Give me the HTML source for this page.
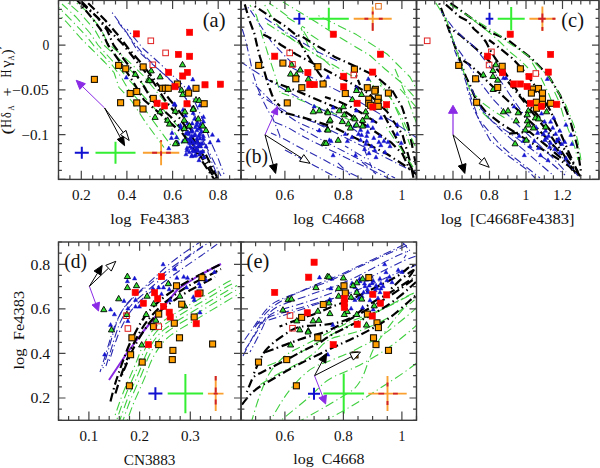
<!DOCTYPE html>
<html><head><meta charset="utf-8"><style>html,body{margin:0;padding:0;background:#fff;}svg{display:block;} text{fill:#111;} text.tag{stroke-width:0;}</style></head>
<body><svg width="600" height="468" viewBox="0 0 600 468">
<rect width="600" height="468" fill="#fff"/>
<defs><clipPath id="ca"><rect x="58.5" y="0.4" width="182.5" height="179.0"/></clipPath><clipPath id="cb"><rect x="241.0" y="0.4" width="175.5" height="179.0"/></clipPath><clipPath id="cc"><rect x="416.5" y="0.4" width="182.5" height="179.0"/></clipPath><clipPath id="cd"><rect x="58.5" y="242.0" width="182.5" height="178.3"/></clipPath><clipPath id="ce"><rect x="241.0" y="242.0" width="175.5" height="178.3"/></clipPath></defs>
<g clip-path="url(#ca)">
<path d="M55.0 10.5L66.0 21.5L81.0 38.5L89.0 46.5L95.0 52.5L105.0 62.5L114.0 72.5L119.0 87.5L132.0 101.5L145.0 121.5L156.0 136.5L164.0 147.5" fill="none" stroke="#3fcf3f" stroke-width="1.1" stroke-dasharray="9 3.5 1.2 3.5" stroke-dashoffset="3" stroke-linecap="butt" stroke-linejoin="round" opacity="1.00"/>
<path d="M58.0 6.8L71.0 19.8L86.0 35.8L94.0 45.8L102.0 53.8L112.0 64.8L121.0 76.8L128.0 88.8L139.0 100.8L153.0 120.8L164.0 135.8L172.0 146.8" fill="none" stroke="#3fcf3f" stroke-width="1.1" stroke-dasharray="9 3.5 1.2 3.5" stroke-dashoffset="7" stroke-linecap="butt" stroke-linejoin="round" opacity="1.00"/>
<path d="M62.0 4.0L76.0 17.0L90.0 33.0L98.0 45.0L108.0 56.0L119.0 68.0L129.0 80.0L138.0 90.0L147.0 100.0L165.0 120.0L175.0 133.0L182.0 144.0" fill="none" stroke="#3fcf3f" stroke-width="1.1" stroke-dasharray="9 3.5 1.2 3.5" stroke-dashoffset="1" stroke-linecap="butt" stroke-linejoin="round" opacity="1.00"/>
<path d="M66.0 1.2L81.0 14.2L95.0 30.2L103.0 44.2L114.0 54.2L126.0 65.2L137.0 77.2L147.0 89.2L154.0 99.2L170.0 117.2L182.0 131.2L188.0 139.2" fill="none" stroke="#3fcf3f" stroke-width="1.1" stroke-dasharray="9 3.5 1.2 3.5" stroke-dashoffset="10" stroke-linecap="butt" stroke-linejoin="round" opacity="1.00"/>
<path d="M71.0 -1.5L87.0 11.5L100.0 27.5L108.0 43.5L120.0 53.5L132.0 64.5L144.0 76.5L154.0 88.5L162.0 98.5L176.0 114.5L186.0 126.5L194.0 136.5" fill="none" stroke="#3fcf3f" stroke-width="1.1" stroke-dasharray="9 3.5 1.2 3.5" stroke-dashoffset="5" stroke-linecap="butt" stroke-linejoin="round" opacity="1.00"/>
<path d="M77.0 0.0L92.0 18.0L101.0 30.0L108.0 45.0L120.0 62.0L132.0 80.0L144.0 100.0L165.0 118.0L183.0 134.0L198.0 155.0L214.0 179.0" fill="none" stroke="#000" stroke-width="2.2" stroke-dasharray="9 3.5 1.5 3.5" stroke-dashoffset="4" stroke-linecap="butt" stroke-linejoin="round" opacity="1.00"/>
<path d="M78.0 0.0L98.0 18.0L107.0 30.0L113.5 45.0L126.0 62.0L140.0 80.0L152.0 100.0L172.0 118.0L186.0 134.0L200.0 155.0L215.0 179.0" fill="none" stroke="#000" stroke-width="2.2" stroke-dasharray="9 3.5 1.5 3.5" stroke-dashoffset="14" stroke-linecap="butt" stroke-linejoin="round" opacity="1.00"/>
<path d="M80.0 0.0L100.0 20.0L111.0 32.0L123.5 45.0L137.0 62.0L152.0 80.0L165.0 100.0L178.0 116.0L188.0 130.0L203.0 155.0L217.0 179.0" fill="none" stroke="#000" stroke-width="2.2" stroke-dasharray="9 3.5 1.5 3.5" stroke-dashoffset="16" stroke-linecap="butt" stroke-linejoin="round" opacity="1.00"/>
<path d="M85.0 0.0L105.0 20.0L118.0 35.0L128.0 48.0L142.0 64.0L156.0 82.0L170.0 100.0L183.0 116.0L191.0 130.0L206.0 155.0L218.0 179.0" fill="none" stroke="#000" stroke-width="2.2" stroke-dasharray="9 3.5 1.5 3.5" stroke-dashoffset="13" stroke-linecap="butt" stroke-linejoin="round" opacity="1.00"/>
<path d="M111.0 11.0L127.0 33.0L137.0 50.0L151.0 63.0L165.0 75.0L179.0 88.0L188.0 102.0L196.0 120.0L203.0 140.0L211.0 160.0L218.0 177.0" fill="none" stroke="#2a2ab0" stroke-width="1.1" stroke-dasharray="8 3 1.2 3" stroke-dashoffset="9" stroke-linecap="butt" stroke-linejoin="round" opacity="1.00"/>
<path d="M118.0 22.0L131.0 39.0L143.0 54.0L156.0 67.0L169.0 79.0L182.0 92.0L192.0 108.0L199.0 126.0L207.0 148.0L221.0 176.0" fill="none" stroke="#2a2ab0" stroke-width="1.1" stroke-dasharray="8 3 1.2 3" stroke-dashoffset="15" stroke-linecap="butt" stroke-linejoin="round" opacity="1.00"/>
<path d="M127.0 29.0L143.5 49.0L156.0 60.0L170.0 73.0L184.0 86.0L194.0 100.0L202.0 118.0L210.0 140.0L218.0 158.0L224.0 174.0" fill="none" stroke="#2a2ab0" stroke-width="1.1" stroke-dasharray="8 3 1.2 3" stroke-dashoffset="6" stroke-linecap="butt" stroke-linejoin="round" opacity="1.00"/>
</g>
<path d="M126.3 75.2L128.4 79.0L124.2 79.0Z" fill="#1515d0" stroke="#1515d0" stroke-width="0.5" stroke-linejoin="miter"/>
<path d="M192.8 77.1L194.9 80.9L190.7 80.9Z" fill="#1515d0" stroke="#1515d0" stroke-width="0.5" stroke-linejoin="miter"/>
<path d="M189.1 85.6L191.2 89.4L187.0 89.4Z" fill="#1515d0" stroke="#1515d0" stroke-width="0.5" stroke-linejoin="miter"/>
<path d="M174.2 101.7L176.3 105.5L172.1 105.5Z" fill="#1515d0" stroke="#1515d0" stroke-width="0.5" stroke-linejoin="miter"/>
<path d="M174.6 102.4L176.7 106.2L172.5 106.2Z" fill="#1515d0" stroke="#1515d0" stroke-width="0.5" stroke-linejoin="miter"/>
<path d="M193.2 110.7L195.3 114.5L191.1 114.5Z" fill="#1515d0" stroke="#1515d0" stroke-width="0.5" stroke-linejoin="miter"/>
<path d="M203.5 114.6L205.6 118.4L201.4 118.4Z" fill="#1515d0" stroke="#1515d0" stroke-width="0.5" stroke-linejoin="miter"/>
<path d="M203.5 119.1L205.6 122.9L201.4 122.9Z" fill="#1515d0" stroke="#1515d0" stroke-width="0.5" stroke-linejoin="miter"/>
<path d="M194.5 116.5L196.6 120.3L192.4 120.3Z" fill="#1515d0" stroke="#1515d0" stroke-width="0.5" stroke-linejoin="miter"/>
<path d="M196.4 122.9L198.5 126.7L194.3 126.7Z" fill="#1515d0" stroke="#1515d0" stroke-width="0.5" stroke-linejoin="miter"/>
<path d="M199.0 126.1L201.1 129.9L196.9 129.9Z" fill="#1515d0" stroke="#1515d0" stroke-width="0.5" stroke-linejoin="miter"/>
<path d="M180.4 122.9L182.5 126.7L178.3 126.7Z" fill="#1515d0" stroke="#1515d0" stroke-width="0.5" stroke-linejoin="miter"/>
<path d="M181.0 125.5L183.1 129.3L178.9 129.3Z" fill="#1515d0" stroke="#1515d0" stroke-width="0.5" stroke-linejoin="miter"/>
<path d="M172.0 130.6L174.1 134.4L169.9 134.4Z" fill="#1515d0" stroke="#1515d0" stroke-width="0.5" stroke-linejoin="miter"/>
<path d="M171.4 135.7L173.5 139.5L169.3 139.5Z" fill="#1515d0" stroke="#1515d0" stroke-width="0.5" stroke-linejoin="miter"/>
<path d="M212.4 132.5L214.5 136.3L210.3 136.3Z" fill="#1515d0" stroke="#1515d0" stroke-width="0.5" stroke-linejoin="miter"/>
<path d="M218.2 138.3L220.3 142.1L216.1 142.1Z" fill="#1515d0" stroke="#1515d0" stroke-width="0.5" stroke-linejoin="miter"/>
<path d="M209.9 140.2L212.0 144.0L207.8 144.0Z" fill="#1515d0" stroke="#1515d0" stroke-width="0.5" stroke-linejoin="miter"/>
<path d="M168.8 146.0L170.9 149.8L166.7 149.8Z" fill="#1515d0" stroke="#1515d0" stroke-width="0.5" stroke-linejoin="miter"/>
<path d="M191.9 133.8L194.0 137.6L189.8 137.6Z" fill="#1515d0" stroke="#1515d0" stroke-width="0.5" stroke-linejoin="miter"/>
<path d="M195.1 131.9L197.2 135.7L193.0 135.7Z" fill="#1515d0" stroke="#1515d0" stroke-width="0.5" stroke-linejoin="miter"/>
<path d="M199.6 131.9L201.7 135.7L197.5 135.7Z" fill="#1515d0" stroke="#1515d0" stroke-width="0.5" stroke-linejoin="miter"/>
<path d="M203.5 136.4L205.6 140.2L201.4 140.2Z" fill="#1515d0" stroke="#1515d0" stroke-width="0.5" stroke-linejoin="miter"/>
<path d="M193.2 140.2L195.3 144.0L191.1 144.0Z" fill="#1515d0" stroke="#1515d0" stroke-width="0.5" stroke-linejoin="miter"/>
<path d="M197.0 138.9L199.1 142.7L194.9 142.7Z" fill="#1515d0" stroke="#1515d0" stroke-width="0.5" stroke-linejoin="miter"/>
<path d="M190.0 144.1L192.1 147.9L187.9 147.9Z" fill="#1515d0" stroke="#1515d0" stroke-width="0.5" stroke-linejoin="miter"/>
<path d="M194.5 144.1L196.6 147.9L192.4 147.9Z" fill="#1515d0" stroke="#1515d0" stroke-width="0.5" stroke-linejoin="miter"/>
<path d="M198.3 143.4L200.4 147.2L196.2 147.2Z" fill="#1515d0" stroke="#1515d0" stroke-width="0.5" stroke-linejoin="miter"/>
<path d="M200.9 141.5L203.0 145.3L198.8 145.3Z" fill="#1515d0" stroke="#1515d0" stroke-width="0.5" stroke-linejoin="miter"/>
<path d="M206.0 144.1L208.1 147.9L203.9 147.9Z" fill="#1515d0" stroke="#1515d0" stroke-width="0.5" stroke-linejoin="miter"/>
<path d="M192.6 148.5L194.7 152.3L190.5 152.3Z" fill="#1515d0" stroke="#1515d0" stroke-width="0.5" stroke-linejoin="miter"/>
<path d="M196.4 148.5L198.5 152.3L194.3 152.3Z" fill="#1515d0" stroke="#1515d0" stroke-width="0.5" stroke-linejoin="miter"/>
<path d="M191.9 153.0L194.0 156.8L189.8 156.8Z" fill="#1515d0" stroke="#1515d0" stroke-width="0.5" stroke-linejoin="miter"/>
<path d="M195.8 153.0L197.9 156.8L193.7 156.8Z" fill="#1515d0" stroke="#1515d0" stroke-width="0.5" stroke-linejoin="miter"/>
<path d="M176.5 135.1L178.6 138.9L174.4 138.9Z" fill="#1515d0" stroke="#1515d0" stroke-width="0.5" stroke-linejoin="miter"/>
<path d="M177.8 140.2L179.9 144.0L175.7 144.0Z" fill="#1515d0" stroke="#1515d0" stroke-width="0.5" stroke-linejoin="miter"/>
<path d="M183.0 138.9L185.1 142.7L180.9 142.7Z" fill="#1515d0" stroke="#1515d0" stroke-width="0.5" stroke-linejoin="miter"/>
<path d="M189.4 139.6L191.5 143.4L187.3 143.4Z" fill="#1515d0" stroke="#1515d0" stroke-width="0.5" stroke-linejoin="miter"/>
<path d="M185.5 113.3L187.6 117.1L183.4 117.1Z" fill="#1515d0" stroke="#1515d0" stroke-width="0.5" stroke-linejoin="miter"/>
<path d="M183.0 107.5L185.1 111.3L180.9 111.3Z" fill="#1515d0" stroke="#1515d0" stroke-width="0.5" stroke-linejoin="miter"/>
<path d="M199.8 103.2L201.9 107.0L197.7 107.0Z" fill="#1515d0" stroke="#1515d0" stroke-width="0.5" stroke-linejoin="miter"/>
<path d="M188.6 85.3L190.7 89.1L186.5 89.1Z" fill="#1515d0" stroke="#1515d0" stroke-width="0.5" stroke-linejoin="miter"/>
<path d="M175.0 102.2L177.1 106.0L172.9 106.0Z" fill="#1515d0" stroke="#1515d0" stroke-width="0.5" stroke-linejoin="miter"/>
<path d="M192.0 127.9L194.1 131.7L189.9 131.7Z" fill="#1515d0" stroke="#1515d0" stroke-width="0.5" stroke-linejoin="miter"/>
<path d="M186.0 130.9L188.1 134.7L183.9 134.7Z" fill="#1515d0" stroke="#1515d0" stroke-width="0.5" stroke-linejoin="miter"/>
<path d="M201.0 149.9L203.1 153.7L198.9 153.7Z" fill="#1515d0" stroke="#1515d0" stroke-width="0.5" stroke-linejoin="miter"/>
<path d="M204.0 154.9L206.1 158.7L201.9 158.7Z" fill="#1515d0" stroke="#1515d0" stroke-width="0.5" stroke-linejoin="miter"/>
<path d="M199.0 157.9L201.1 161.7L196.9 161.7Z" fill="#1515d0" stroke="#1515d0" stroke-width="0.5" stroke-linejoin="miter"/>
<path d="M187.0 147.9L189.1 151.7L184.9 151.7Z" fill="#1515d0" stroke="#1515d0" stroke-width="0.5" stroke-linejoin="miter"/>
<path d="M190.0 135.9L192.1 139.7L187.9 139.7Z" fill="#1515d0" stroke="#1515d0" stroke-width="0.5" stroke-linejoin="miter"/>
<path d="M187.5 121.0L189.6 124.8L185.4 124.8Z" fill="#1515d0" stroke="#1515d0" stroke-width="0.5" stroke-linejoin="miter"/>
<path d="M192.2 121.1L194.3 124.9L190.1 124.9Z" fill="#1515d0" stroke="#1515d0" stroke-width="0.5" stroke-linejoin="miter"/>
<path d="M197.3 120.0L199.4 123.8L195.2 123.8Z" fill="#1515d0" stroke="#1515d0" stroke-width="0.5" stroke-linejoin="miter"/>
<path d="M200.5 121.6L202.6 125.4L198.4 125.4Z" fill="#1515d0" stroke="#1515d0" stroke-width="0.5" stroke-linejoin="miter"/>
<path d="M189.3 124.4L191.4 128.2L187.2 128.2Z" fill="#1515d0" stroke="#1515d0" stroke-width="0.5" stroke-linejoin="miter"/>
<path d="M195.3 124.9L197.4 128.7L193.2 128.7Z" fill="#1515d0" stroke="#1515d0" stroke-width="0.5" stroke-linejoin="miter"/>
<path d="M199.5 124.9L201.6 128.7L197.4 128.7Z" fill="#1515d0" stroke="#1515d0" stroke-width="0.5" stroke-linejoin="miter"/>
<path d="M203.6 124.2L205.7 128.0L201.5 128.0Z" fill="#1515d0" stroke="#1515d0" stroke-width="0.5" stroke-linejoin="miter"/>
<path d="M187.9 129.6L190.0 133.4L185.8 133.4Z" fill="#1515d0" stroke="#1515d0" stroke-width="0.5" stroke-linejoin="miter"/>
<path d="M192.1 129.4L194.2 133.2L190.0 133.2Z" fill="#1515d0" stroke="#1515d0" stroke-width="0.5" stroke-linejoin="miter"/>
<path d="M196.9 128.0L199.0 131.8L194.8 131.8Z" fill="#1515d0" stroke="#1515d0" stroke-width="0.5" stroke-linejoin="miter"/>
<path d="M201.6 129.1L203.7 132.9L199.5 132.9Z" fill="#1515d0" stroke="#1515d0" stroke-width="0.5" stroke-linejoin="miter"/>
<path d="M189.0 132.0L191.1 135.8L186.9 135.8Z" fill="#1515d0" stroke="#1515d0" stroke-width="0.5" stroke-linejoin="miter"/>
<path d="M194.6 132.9L196.7 136.7L192.5 136.7Z" fill="#1515d0" stroke="#1515d0" stroke-width="0.5" stroke-linejoin="miter"/>
<path d="M198.8 133.7L200.9 137.5L196.7 137.5Z" fill="#1515d0" stroke="#1515d0" stroke-width="0.5" stroke-linejoin="miter"/>
<path d="M203.3 133.8L205.4 137.6L201.2 137.6Z" fill="#1515d0" stroke="#1515d0" stroke-width="0.5" stroke-linejoin="miter"/>
<path d="M187.0 137.5L189.1 141.3L184.9 141.3Z" fill="#1515d0" stroke="#1515d0" stroke-width="0.5" stroke-linejoin="miter"/>
<path d="M191.6 137.8L193.7 141.6L189.5 141.6Z" fill="#1515d0" stroke="#1515d0" stroke-width="0.5" stroke-linejoin="miter"/>
<path d="M197.0 136.1L199.1 139.9L194.9 139.9Z" fill="#1515d0" stroke="#1515d0" stroke-width="0.5" stroke-linejoin="miter"/>
<path d="M200.0 136.3L202.1 140.1L197.9 140.1Z" fill="#1515d0" stroke="#1515d0" stroke-width="0.5" stroke-linejoin="miter"/>
<path d="M189.9 140.8L192.0 144.6L187.8 144.6Z" fill="#1515d0" stroke="#1515d0" stroke-width="0.5" stroke-linejoin="miter"/>
<path d="M193.8 140.5L195.9 144.3L191.7 144.3Z" fill="#1515d0" stroke="#1515d0" stroke-width="0.5" stroke-linejoin="miter"/>
<path d="M198.0 140.7L200.1 144.5L195.9 144.5Z" fill="#1515d0" stroke="#1515d0" stroke-width="0.5" stroke-linejoin="miter"/>
<path d="M202.2 141.1L204.3 144.9L200.1 144.9Z" fill="#1515d0" stroke="#1515d0" stroke-width="0.5" stroke-linejoin="miter"/>
<path d="M187.0 145.7L189.1 149.5L184.9 149.5Z" fill="#1515d0" stroke="#1515d0" stroke-width="0.5" stroke-linejoin="miter"/>
<path d="M191.7 145.8L193.8 149.6L189.6 149.6Z" fill="#1515d0" stroke="#1515d0" stroke-width="0.5" stroke-linejoin="miter"/>
<path d="M196.5 145.9L198.6 149.7L194.4 149.7Z" fill="#1515d0" stroke="#1515d0" stroke-width="0.5" stroke-linejoin="miter"/>
<path d="M200.6 144.2L202.7 148.0L198.5 148.0Z" fill="#1515d0" stroke="#1515d0" stroke-width="0.5" stroke-linejoin="miter"/>
<path d="M189.3 149.8L191.4 153.6L187.2 153.6Z" fill="#1515d0" stroke="#1515d0" stroke-width="0.5" stroke-linejoin="miter"/>
<path d="M193.9 149.0L196.0 152.8L191.8 152.8Z" fill="#1515d0" stroke="#1515d0" stroke-width="0.5" stroke-linejoin="miter"/>
<path d="M198.0 148.3L200.1 152.1L195.9 152.1Z" fill="#1515d0" stroke="#1515d0" stroke-width="0.5" stroke-linejoin="miter"/>
<path d="M202.8 149.1L204.9 152.9L200.7 152.9Z" fill="#1515d0" stroke="#1515d0" stroke-width="0.5" stroke-linejoin="miter"/>
<path d="M186.0 152.0L188.1 155.8L183.9 155.8Z" fill="#1515d0" stroke="#1515d0" stroke-width="0.5" stroke-linejoin="miter"/>
<path d="M191.6 153.9L193.7 157.7L189.5 157.7Z" fill="#1515d0" stroke="#1515d0" stroke-width="0.5" stroke-linejoin="miter"/>
<path d="M194.6 153.5L196.7 157.3L192.5 157.3Z" fill="#1515d0" stroke="#1515d0" stroke-width="0.5" stroke-linejoin="miter"/>
<path d="M199.7 152.2L201.8 156.0L197.6 156.0Z" fill="#1515d0" stroke="#1515d0" stroke-width="0.5" stroke-linejoin="miter"/>
<path d="M135.3 71.0L138.4 76.4L132.2 76.4Z" fill="#33dd33" stroke="#000" stroke-width="0.9" stroke-linejoin="miter"/>
<path d="M148.4 76.8L151.5 82.2L145.3 82.2Z" fill="#33dd33" stroke="#000" stroke-width="0.9" stroke-linejoin="miter"/>
<path d="M182.5 61.4L185.6 66.8L179.4 66.8Z" fill="#33dd33" stroke="#000" stroke-width="0.9" stroke-linejoin="miter"/>
<path d="M151.2 67.5L154.3 72.9L148.1 72.9Z" fill="#33dd33" stroke="#000" stroke-width="0.9" stroke-linejoin="miter"/>
<path d="M160.1 73.5L163.2 78.9L157.0 78.9Z" fill="#33dd33" stroke="#000" stroke-width="0.9" stroke-linejoin="miter"/>
<path d="M149.6 77.3L152.7 82.7L146.5 82.7Z" fill="#33dd33" stroke="#000" stroke-width="0.9" stroke-linejoin="miter"/>
<path d="M181.6 86.9L184.7 92.3L178.5 92.3Z" fill="#33dd33" stroke="#000" stroke-width="0.9" stroke-linejoin="miter"/>
<path d="M182.7 91.2L185.8 96.6L179.6 96.6Z" fill="#33dd33" stroke="#000" stroke-width="0.9" stroke-linejoin="miter"/>
<path d="M196.0 96.5L199.1 101.9L192.9 101.9Z" fill="#33dd33" stroke="#000" stroke-width="0.9" stroke-linejoin="miter"/>
<path d="M199.2 97.0L202.3 102.4L196.1 102.4Z" fill="#33dd33" stroke="#000" stroke-width="0.9" stroke-linejoin="miter"/>
<path d="M193.4 105.0L196.5 110.4L190.3 110.4Z" fill="#33dd33" stroke="#000" stroke-width="0.9" stroke-linejoin="miter"/>
<path d="M193.2 106.0L196.3 111.4L190.1 111.4Z" fill="#33dd33" stroke="#000" stroke-width="0.9" stroke-linejoin="miter"/>
<path d="M184.9 108.5L188.0 113.9L181.8 113.9Z" fill="#33dd33" stroke="#000" stroke-width="0.9" stroke-linejoin="miter"/>
<path d="M175.3 107.9L178.4 113.3L172.2 113.3Z" fill="#33dd33" stroke="#000" stroke-width="0.9" stroke-linejoin="miter"/>
<path d="M167.6 116.9L170.7 122.3L164.5 122.3Z" fill="#33dd33" stroke="#000" stroke-width="0.9" stroke-linejoin="miter"/>
<path d="M169.5 120.7L172.6 126.1L166.4 126.1Z" fill="#33dd33" stroke="#000" stroke-width="0.9" stroke-linejoin="miter"/>
<path d="M184.2 116.9L187.3 122.3L181.1 122.3Z" fill="#33dd33" stroke="#000" stroke-width="0.9" stroke-linejoin="miter"/>
<path d="M189.4 122.6L192.5 128.0L186.3 128.0Z" fill="#33dd33" stroke="#000" stroke-width="0.9" stroke-linejoin="miter"/>
<path d="M184.2 125.2L187.3 130.6L181.1 130.6Z" fill="#33dd33" stroke="#000" stroke-width="0.9" stroke-linejoin="miter"/>
<path d="M198.3 115.6L201.4 121.0L195.2 121.0Z" fill="#33dd33" stroke="#000" stroke-width="0.9" stroke-linejoin="miter"/>
<path d="M202.8 122.6L205.9 128.0L199.7 128.0Z" fill="#33dd33" stroke="#000" stroke-width="0.9" stroke-linejoin="miter"/>
<path d="M206.0 127.1L209.1 132.5L202.9 132.5Z" fill="#33dd33" stroke="#000" stroke-width="0.9" stroke-linejoin="miter"/>
<path d="M176.5 140.0L179.6 145.4L173.4 145.4Z" fill="#33dd33" stroke="#000" stroke-width="0.9" stroke-linejoin="miter"/>
<path d="M184.9 137.4L188.0 142.8L181.8 142.8Z" fill="#33dd33" stroke="#000" stroke-width="0.9" stroke-linejoin="miter"/>
<path d="M160.2 108.4L163.3 113.8L157.1 113.8Z" fill="#33dd33" stroke="#000" stroke-width="0.9" stroke-linejoin="miter"/>
<path d="M155.1 114.0L158.2 119.4L152.0 119.4Z" fill="#33dd33" stroke="#000" stroke-width="0.9" stroke-linejoin="miter"/>
<path d="M175.4 140.4L178.5 145.8L172.3 145.8Z" fill="#33dd33" stroke="#000" stroke-width="0.9" stroke-linejoin="miter"/>
<rect x="115.6" y="62.4" width="6.0" height="6.0" fill="#ff9f00" stroke="#1a1000" stroke-width="1.1"/>
<rect x="122.7" y="65.8" width="6.0" height="6.0" fill="#ff9f00" stroke="#1a1000" stroke-width="1.1"/>
<rect x="140.2" y="63.9" width="6.0" height="6.0" fill="#ff9f00" stroke="#1a1000" stroke-width="1.1"/>
<rect x="91.4" y="76.4" width="6.0" height="6.0" fill="#ff9f00" stroke="#1a1000" stroke-width="1.1"/>
<rect x="117.6" y="99.7" width="6.0" height="6.0" fill="#ff9f00" stroke="#1a1000" stroke-width="1.1"/>
<rect x="127.2" y="90.5" width="6.0" height="6.0" fill="#ff9f00" stroke="#1a1000" stroke-width="1.1"/>
<rect x="133.7" y="88.5" width="6.0" height="6.0" fill="#ff9f00" stroke="#1a1000" stroke-width="1.1"/>
<rect x="133.7" y="99.9" width="6.0" height="6.0" fill="#ff9f00" stroke="#1a1000" stroke-width="1.1"/>
<rect x="140.0" y="106.0" width="6.0" height="6.0" fill="#ff9f00" stroke="#1a1000" stroke-width="1.1"/>
<rect x="159.6" y="85.3" width="6.0" height="6.0" fill="#ff9f00" stroke="#1a1000" stroke-width="1.1"/>
<rect x="162.3" y="85.3" width="6.0" height="6.0" fill="#ff9f00" stroke="#1a1000" stroke-width="1.1"/>
<rect x="165.3" y="85.3" width="6.0" height="6.0" fill="#ff9f00" stroke="#1a1000" stroke-width="1.1"/>
<rect x="174.4" y="81.0" width="6.0" height="6.0" fill="#ff9f00" stroke="#1a1000" stroke-width="1.1"/>
<rect x="185.6" y="90.1" width="6.0" height="6.0" fill="#ff9f00" stroke="#1a1000" stroke-width="1.1"/>
<rect x="193.0" y="85.3" width="6.0" height="6.0" fill="#ff9f00" stroke="#1a1000" stroke-width="1.1"/>
<rect x="150.3" y="95.4" width="6.0" height="6.0" fill="#ff9f00" stroke="#1a1000" stroke-width="1.1"/>
<rect x="201.2" y="100.7" width="6.0" height="6.0" fill="#ff9f00" stroke="#1a1000" stroke-width="1.1"/>
<rect x="148.0" y="38.0" width="5.6" height="5.6" fill="none" stroke="#e02020" stroke-width="1.0"/>
<rect x="162.8" y="50.1" width="5.6" height="5.6" fill="none" stroke="#e02020" stroke-width="1.0"/>
<rect x="150.0" y="62.0" width="5.6" height="5.6" fill="none" stroke="#e02020" stroke-width="1.0"/>
<rect x="133.3" y="30.8" width="6.2" height="6.2" fill="#ff0000" stroke="#ff0000" stroke-width="0.6"/>
<rect x="186.5" y="29.2" width="6.2" height="6.2" fill="#ff0000" stroke="#ff0000" stroke-width="0.6"/>
<rect x="175.3" y="51.3" width="6.2" height="6.2" fill="#ff0000" stroke="#ff0000" stroke-width="0.6"/>
<rect x="186.5" y="53.2" width="6.2" height="6.2" fill="#ff0000" stroke="#ff0000" stroke-width="0.6"/>
<rect x="165.5" y="69.2" width="6.2" height="6.2" fill="#ff0000" stroke="#ff0000" stroke-width="0.6"/>
<rect x="184.3" y="69.3" width="6.2" height="6.2" fill="#ff0000" stroke="#ff0000" stroke-width="0.6"/>
<rect x="179.6" y="72.9" width="6.2" height="6.2" fill="#ff0000" stroke="#ff0000" stroke-width="0.6"/>
<rect x="201.9" y="81.7" width="6.2" height="6.2" fill="#ff0000" stroke="#ff0000" stroke-width="0.6"/>
<rect x="217.3" y="81.1" width="6.2" height="6.2" fill="#ff0000" stroke="#ff0000" stroke-width="0.6"/>
<rect x="171.9" y="83.6" width="6.2" height="6.2" fill="#ff0000" stroke="#ff0000" stroke-width="0.6"/>
<rect x="154.0" y="100.1" width="6.2" height="6.2" fill="#ff0000" stroke="#ff0000" stroke-width="0.6"/>
<rect x="161.4" y="102.8" width="6.2" height="6.2" fill="#ff0000" stroke="#ff0000" stroke-width="0.6"/>
<rect x="183.9" y="100.7" width="6.2" height="6.2" fill="#ff0000" stroke="#ff0000" stroke-width="0.6"/>
<path d="M104.6 108.0L82.6 86.6" stroke="#8b2be6" stroke-width="1.0"/>
<path d="M76.2 80.3L85.4 83.7L79.8 89.4Z" fill="#8b2be6" stroke="#8b2be6" stroke-width="1"/>
<path d="M104.6 108.0L120.4 137.7" stroke="#000" stroke-width="1.0"/>
<path d="M124.6 145.7L117.3 139.4L123.5 136.1Z" fill="#000" stroke="#000" stroke-width="1"/>
<path d="M104.6 108.0L123.2 132.5" stroke="#000" stroke-width="1.0"/>
<path d="M129.2 140.5L120.4 134.6L126.0 130.4Z" fill="#fff" stroke="#000" stroke-width="1"/>
<path d="M74.8 152.7H88.8M81.8 146.7V158.7" stroke="#1010d0" stroke-width="2.0" fill="none"/>
<path d="M95.5 152.7H135.5M115.5 141.7V163.7" stroke="#33ee33" stroke-width="2.0" fill="none"/>
<path d="M142.9 152.8H179.3M161.1 140.3V165.3" stroke="#f9a030" stroke-width="1.9" fill="none"/>
<path d="M152.1 152.8H157.1M166.1 152.8H170.8M161.1 151.2V155.8M161.1 140.3V141.8" stroke="#d0202a" stroke-width="1.9" fill="none"/>
<g clip-path="url(#cb)">
<path d="M264.0 3.8L275.6 23.0L291.0 38.5L314.0 54.0L335.0 66.0L352.0 76.0" fill="none" stroke="#3fcf3f" stroke-width="1.1" stroke-dasharray="9 3.5 1.2 3.5" stroke-dashoffset="11" stroke-linecap="butt" stroke-linejoin="round" opacity="1.00"/>
<path d="M318.0 15.4L356.4 34.6L387.0 54.0L410.0 77.0L417.0 90.0" fill="none" stroke="#3fcf3f" stroke-width="1.1" stroke-dasharray="9 3.5 1.2 3.5" stroke-dashoffset="12" stroke-linecap="butt" stroke-linejoin="round" opacity="1.00"/>
<path d="M283.0 2.0L316.0 22.0L340.0 37.5L370.0 55.5L385.0 69.0L403.0 84.0L417.0 100.0" fill="none" stroke="#3fcf3f" stroke-width="1.1" stroke-dasharray="9 3.5 1.2 3.5" stroke-dashoffset="2" stroke-linecap="butt" stroke-linejoin="round" opacity="1.00"/>
<path d="M395.0 69.0L406.4 96.0L418.0 127.0" fill="none" stroke="#3fcf3f" stroke-width="1.1" stroke-dasharray="9 3.5 1.2 3.5" stroke-dashoffset="0" stroke-linecap="butt" stroke-linejoin="round" opacity="1.00"/>
<path d="M368.0 77.0L379.5 96.0L388.0 110.0" fill="none" stroke="#3fcf3f" stroke-width="1.1" stroke-dasharray="9 3.5 1.2 3.5" stroke-dashoffset="3" stroke-linecap="butt" stroke-linejoin="round" opacity="1.00"/>
<path d="M250.0 5.0L256.4 15.4L262.0 35.0L268.0 54.0L275.6 77.0L280.0 92.0" fill="none" stroke="#3fcf3f" stroke-width="1.1" stroke-dasharray="9 3.5 1.2 3.5" stroke-dashoffset="7" stroke-linecap="butt" stroke-linejoin="round" opacity="1.00"/>
<path d="M281.6 93.1L293.8 97.2L310.0 104.0L330.0 112.0L350.0 120.0" fill="none" stroke="#3fcf3f" stroke-width="1.1" stroke-dasharray="9 3.5 1.2 3.5" stroke-dashoffset="1" stroke-linecap="butt" stroke-linejoin="round" opacity="1.00"/>
<path d="M300.0 25.0L310.0 42.0L322.0 58.0L335.0 70.0" fill="none" stroke="#3fcf3f" stroke-width="1.1" stroke-dasharray="9 3.5 1.2 3.5" stroke-dashoffset="10" stroke-linecap="butt" stroke-linejoin="round" opacity="1.00"/>
<path d="M380.0 82.0L392.0 100.0L402.0 122.0L410.0 145.0" fill="none" stroke="#3fcf3f" stroke-width="1.1" stroke-dasharray="9 3.5 1.2 3.5" stroke-dashoffset="5" stroke-linecap="butt" stroke-linejoin="round" opacity="1.00"/>
<path d="M269.3 3.3L279.3 10.0L290.0 18.0" fill="none" stroke="#3fcf3f" stroke-width="1.1" stroke-dasharray="9 3.5 1.2 3.5" stroke-dashoffset="4" stroke-linecap="butt" stroke-linejoin="round" opacity="1.00"/>
<path d="M264.3 21.7L274.3 28.3L285.0 35.0" fill="none" stroke="#3fcf3f" stroke-width="1.1" stroke-dasharray="9 3.5 1.2 3.5" stroke-dashoffset="14" stroke-linecap="butt" stroke-linejoin="round" opacity="1.00"/>
<path d="M286.0 16.7L294.3 21.7L305.0 28.0" fill="none" stroke="#3fcf3f" stroke-width="1.1" stroke-dasharray="9 3.5 1.2 3.5" stroke-dashoffset="16" stroke-linecap="butt" stroke-linejoin="round" opacity="1.00"/>
<path d="M282.7 33.3L291.0 38.3L300.0 44.0" fill="none" stroke="#3fcf3f" stroke-width="1.1" stroke-dasharray="9 3.5 1.2 3.5" stroke-dashoffset="13" stroke-linecap="butt" stroke-linejoin="round" opacity="1.00"/>
<path d="M304.3 30.0L311.0 35.0L320.0 41.0" fill="none" stroke="#3fcf3f" stroke-width="1.1" stroke-dasharray="9 3.5 1.2 3.5" stroke-dashoffset="9" stroke-linecap="butt" stroke-linejoin="round" opacity="1.00"/>
<path d="M299.3 45.0L308.0 50.0L318.0 56.0" fill="none" stroke="#3fcf3f" stroke-width="1.1" stroke-dasharray="9 3.5 1.2 3.5" stroke-dashoffset="15" stroke-linecap="butt" stroke-linejoin="round" opacity="1.00"/>
<path d="M301.0 28.0L306.0 40.0L310.0 50.0" fill="none" stroke="#3fcf3f" stroke-width="1.1" stroke-dasharray="9 3.5 1.2 3.5" stroke-dashoffset="6" stroke-linecap="butt" stroke-linejoin="round" opacity="1.00"/>
<path d="M241.0 25.0L245.0 38.0L249.0 55.0L253.0 73.7L258.0 89.0L264.0 102.7L268.4 111.3L272.6 118.0L277.0 128.4L280.3 137.0" fill="none" stroke="#2a2ab0" stroke-width="1.1" stroke-dasharray="8 3 1.2 3" stroke-dashoffset="11" stroke-linecap="butt" stroke-linejoin="round" opacity="1.00"/>
<path d="M272.0 121.0L288.7 128.0L304.7 137.3L330.0 150.0L355.0 162.0L380.0 174.0L392.0 180.0" fill="none" stroke="#2a2ab0" stroke-width="1.1" stroke-dasharray="8 3 1.2 3" stroke-dashoffset="12" stroke-linecap="butt" stroke-linejoin="round" opacity="1.00"/>
<path d="M271.0 133.0L284.7 139.3L300.7 148.0L316.7 156.0L334.0 165.3L350.0 173.0L365.0 180.0" fill="none" stroke="#2a2ab0" stroke-width="1.1" stroke-dasharray="8 3 1.2 3" stroke-dashoffset="2" stroke-linecap="butt" stroke-linejoin="round" opacity="1.00"/>
<path d="M285.0 150.0L300.0 158.0L315.0 166.0L330.0 174.0L342.0 180.0" fill="none" stroke="#2a2ab0" stroke-width="1.1" stroke-dasharray="8 3 1.2 3" stroke-dashoffset="0" stroke-linecap="butt" stroke-linejoin="round" opacity="1.00"/>
<path d="M300.0 128.0L322.0 140.0L345.0 152.0L370.0 165.0L395.0 178.0" fill="none" stroke="#2a2ab0" stroke-width="1.1" stroke-dasharray="8 3 1.2 3" stroke-dashoffset="3" stroke-linecap="butt" stroke-linejoin="round" opacity="1.00"/>
<path d="M310.0 120.0L330.0 130.0L350.0 140.0L375.0 152.0L400.0 165.0L417.0 173.0" fill="none" stroke="#2a2ab0" stroke-width="1.1" stroke-dasharray="8 3 1.2 3" stroke-dashoffset="7" stroke-linecap="butt" stroke-linejoin="round" opacity="1.00"/>
<path d="M241.0 62.0L262.0 76.0L285.0 90.0L310.0 104.0L340.0 118.0" fill="none" stroke="#2a2ab0" stroke-width="1.1" stroke-dasharray="8 3 1.2 3" stroke-dashoffset="1" stroke-linecap="butt" stroke-linejoin="round" opacity="1.00"/>
<path d="M252.0 82.0L266.0 96.0L280.0 110.0L297.0 122.0L320.0 132.0" fill="none" stroke="#2a2ab0" stroke-width="1.1" stroke-dasharray="8 3 1.2 3" stroke-dashoffset="10" stroke-linecap="butt" stroke-linejoin="round" opacity="1.00"/>
<path d="M258.0 94.0L275.0 105.0L292.0 115.0L308.0 120.0L330.0 128.0" fill="none" stroke="#2a2ab0" stroke-width="1.1" stroke-dasharray="8 3 1.2 3" stroke-dashoffset="5" stroke-linecap="butt" stroke-linejoin="round" opacity="1.00"/>
<path d="M241.0 10.0L248.7 7.7L260.0 25.0L271.8 42.3L285.0 56.0L298.7 69.0" fill="none" stroke="#2a2ab0" stroke-width="1.1" stroke-dasharray="8 3 1.2 3" stroke-dashoffset="4" stroke-linecap="butt" stroke-linejoin="round" opacity="1.00"/>
<path d="M264.0 17.3L290.0 35.0L318.0 52.0L340.0 62.0" fill="none" stroke="#2a2ab0" stroke-width="1.1" stroke-dasharray="8 3 1.2 3" stroke-dashoffset="14" stroke-linecap="butt" stroke-linejoin="round" opacity="1.00"/>
<path d="M279.5 61.5L318.0 80.8L356.4 100.0L395.0 123.0L417.0 138.0" fill="none" stroke="#2a2ab0" stroke-width="1.1" stroke-dasharray="8 3 1.2 3" stroke-dashoffset="16" stroke-linecap="butt" stroke-linejoin="round" opacity="1.00"/>
<path d="M243.5 0.0L249.3 20.0L254.3 33.3L257.7 48.3L260.0 57.0L264.0 70.0L268.0 84.0L272.0 95.0L275.6 102.0L280.0 106.0" fill="none" stroke="#000" stroke-width="2.2" stroke-dasharray="9 3.5 1.5 3.5" stroke-dashoffset="13" stroke-linecap="butt" stroke-linejoin="round" opacity="1.00"/>
<path d="M251.8 4.2L274.3 19.2L286.0 26.7L296.0 35.0L301.0 35.8L312.7 43.3L324.3 50.0L334.3 56.7L346.0 62.0L361.0 69.0L375.6 76.0L392.0 90.0L402.0 107.0L408.0 125.0L412.0 145.0L416.0 165.0" fill="none" stroke="#000" stroke-width="2.2" stroke-dasharray="9 3.5 1.5 3.5" stroke-dashoffset="9" stroke-linecap="butt" stroke-linejoin="round" opacity="1.00"/>
<path d="M261.0 33.3L274.3 40.0L281.0 45.0L289.3 50.0L296.0 54.2L318.0 66.0L348.7 82.0L368.0 93.0L387.0 111.5L402.5 134.6L410.0 161.5L414.0 180.0" fill="none" stroke="#000" stroke-width="2.2" stroke-dasharray="9 3.5 1.5 3.5" stroke-dashoffset="15" stroke-linecap="butt" stroke-linejoin="round" opacity="1.00"/>
<path d="M270.0 80.8L291.0 88.5L318.0 100.0L345.0 111.5L368.0 127.0L391.0 142.3L402.5 154.0L410.0 170.0" fill="none" stroke="#000" stroke-width="2.2" stroke-dasharray="9 3.5 1.5 3.5" stroke-dashoffset="6" stroke-linecap="butt" stroke-linejoin="round" opacity="1.00"/>
<path d="M279.5 111.5L302.5 117.3L333.3 127.0L364.0 142.3L387.0 154.0L410.0 169.0L417.0 175.0" fill="none" stroke="#000" stroke-width="2.2" stroke-dasharray="9 3.5 1.5 3.5" stroke-dashoffset="11" stroke-linecap="butt" stroke-linejoin="round" opacity="1.00"/>
<path d="M296.0 35.0L299.3 41.7L306.8 54.2L312.0 62.0L318.0 72.0L325.6 82.0" fill="none" stroke="#000" stroke-width="2.2" stroke-dasharray="9 3.5 1.5 3.5" stroke-dashoffset="12" stroke-linecap="butt" stroke-linejoin="round" opacity="1.00"/>
<path d="M352.5 65.4L356.0 75.0L360.0 85.0" fill="none" stroke="#000" stroke-width="2.2" stroke-dasharray="9 3.5 1.5 3.5" stroke-dashoffset="2" stroke-linecap="butt" stroke-linejoin="round" opacity="1.00"/>
<path d="M384.0 115.0L392.0 130.0L400.0 145.0L408.0 160.0L414.0 174.0" fill="none" stroke="#000" stroke-width="2.2" stroke-dasharray="9 3.5 1.5 3.5" stroke-dashoffset="0" stroke-linecap="butt" stroke-linejoin="round" opacity="1.00"/>
<path d="M325.0 97.0L340.0 102.0L351.0 107.0L365.0 115.0L380.0 125.0" fill="none" stroke="#000" stroke-width="2.2" stroke-dasharray="9 3.5 1.5 3.5" stroke-dashoffset="3" stroke-linecap="butt" stroke-linejoin="round" opacity="1.00"/>
<path d="M380.0 85.0L392.0 100.0L402.0 118.0L410.0 135.0L417.0 150.0" fill="none" stroke="#3fcf3f" stroke-width="1.1" stroke-dasharray="9 3.5 1.2 3.5" stroke-dashoffset="7" stroke-linecap="butt" stroke-linejoin="round" opacity="1.00"/>
<path d="M400.0 89.0L410.0 100.0L417.0 108.0" fill="none" stroke="#3fcf3f" stroke-width="1.1" stroke-dasharray="9 3.5 1.2 3.5" stroke-dashoffset="1" stroke-linecap="butt" stroke-linejoin="round" opacity="1.00"/>
<path d="M385.0 125.0L395.0 140.0L405.0 155.0L415.0 170.0" fill="none" stroke="#3fcf3f" stroke-width="1.1" stroke-dasharray="9 3.5 1.2 3.5" stroke-dashoffset="10" stroke-linecap="butt" stroke-linejoin="round" opacity="1.00"/>
<path d="M331.0 111.0L347.0 124.0L360.0 134.0" fill="none" stroke="#2a2ab0" stroke-width="1.1" stroke-dasharray="8 3 1.2 3" stroke-dashoffset="5" stroke-linecap="butt" stroke-linejoin="round" opacity="1.00"/>
<path d="M345.0 146.0L365.0 158.0" fill="none" stroke="#2a2ab0" stroke-width="1.1" stroke-dasharray="8 3 1.2 3" stroke-dashoffset="4" stroke-linecap="butt" stroke-linejoin="round" opacity="1.00"/>
<path d="M337.0 162.0L350.0 175.0" fill="none" stroke="#2a2ab0" stroke-width="1.1" stroke-dasharray="8 3 1.2 3" stroke-dashoffset="14" stroke-linecap="butt" stroke-linejoin="round" opacity="1.00"/>
<path d="M362.0 162.0L376.0 174.0" fill="none" stroke="#2a2ab0" stroke-width="1.1" stroke-dasharray="8 3 1.2 3" stroke-dashoffset="16" stroke-linecap="butt" stroke-linejoin="round" opacity="1.00"/>
<path d="M363.0 146.0L367.0 156.0L372.0 168.0" fill="none" stroke="#2a2ab0" stroke-width="1.1" stroke-dasharray="8 3 1.2 3" stroke-dashoffset="13" stroke-linecap="butt" stroke-linejoin="round" opacity="1.00"/>
</g>
<path d="M327.9 74.8L330.0 78.6L325.8 78.6Z" fill="#1515d0" stroke="#1515d0" stroke-width="0.5" stroke-linejoin="miter"/>
<path d="M368.3 76.7L370.4 80.5L366.2 80.5Z" fill="#1515d0" stroke="#1515d0" stroke-width="0.5" stroke-linejoin="miter"/>
<path d="M356.7 86.4L358.8 90.2L354.6 90.2Z" fill="#1515d0" stroke="#1515d0" stroke-width="0.5" stroke-linejoin="miter"/>
<path d="M319.3 128.0L321.4 131.8L317.2 131.8Z" fill="#1515d0" stroke="#1515d0" stroke-width="0.5" stroke-linejoin="miter"/>
<path d="M314.2 104.2L316.3 108.0L312.1 108.0Z" fill="#1515d0" stroke="#1515d0" stroke-width="0.5" stroke-linejoin="miter"/>
<path d="M329.4 137.8L331.5 141.6L327.3 141.6Z" fill="#1515d0" stroke="#1515d0" stroke-width="0.5" stroke-linejoin="miter"/>
<path d="M333.1 105.3L335.2 109.1L331.0 109.1Z" fill="#1515d0" stroke="#1515d0" stroke-width="0.5" stroke-linejoin="miter"/>
<path d="M356.5 108.3L358.6 112.1L354.4 112.1Z" fill="#1515d0" stroke="#1515d0" stroke-width="0.5" stroke-linejoin="miter"/>
<path d="M356.5 85.3L358.6 89.1L354.4 89.1Z" fill="#1515d0" stroke="#1515d0" stroke-width="0.5" stroke-linejoin="miter"/>
<path d="M380.9 115.4L383.0 119.2L378.8 119.2Z" fill="#1515d0" stroke="#1515d0" stroke-width="0.5" stroke-linejoin="miter"/>
<path d="M372.8 118.5L374.9 122.3L370.7 122.3Z" fill="#1515d0" stroke="#1515d0" stroke-width="0.5" stroke-linejoin="miter"/>
<path d="M397.2 122.5L399.3 126.3L395.1 126.3Z" fill="#1515d0" stroke="#1515d0" stroke-width="0.5" stroke-linejoin="miter"/>
<path d="M367.7 123.6L369.8 127.4L365.6 127.4Z" fill="#1515d0" stroke="#1515d0" stroke-width="0.5" stroke-linejoin="miter"/>
<path d="M372.8 125.6L374.9 129.4L370.7 129.4Z" fill="#1515d0" stroke="#1515d0" stroke-width="0.5" stroke-linejoin="miter"/>
<path d="M345.3 131.7L347.4 135.5L343.2 135.5Z" fill="#1515d0" stroke="#1515d0" stroke-width="0.5" stroke-linejoin="miter"/>
<path d="M358.5 131.7L360.6 135.5L356.4 135.5Z" fill="#1515d0" stroke="#1515d0" stroke-width="0.5" stroke-linejoin="miter"/>
<path d="M361.6 132.7L363.7 136.5L359.5 136.5Z" fill="#1515d0" stroke="#1515d0" stroke-width="0.5" stroke-linejoin="miter"/>
<path d="M366.7 133.7L368.8 137.5L364.6 137.5Z" fill="#1515d0" stroke="#1515d0" stroke-width="0.5" stroke-linejoin="miter"/>
<path d="M373.8 135.7L375.9 139.5L371.7 139.5Z" fill="#1515d0" stroke="#1515d0" stroke-width="0.5" stroke-linejoin="miter"/>
<path d="M379.9 133.7L382.0 137.5L377.8 137.5Z" fill="#1515d0" stroke="#1515d0" stroke-width="0.5" stroke-linejoin="miter"/>
<path d="M397.2 131.7L399.3 135.5L395.1 135.5Z" fill="#1515d0" stroke="#1515d0" stroke-width="0.5" stroke-linejoin="miter"/>
<path d="M347.4 138.8L349.5 142.6L345.3 142.6Z" fill="#1515d0" stroke="#1515d0" stroke-width="0.5" stroke-linejoin="miter"/>
<path d="M360.6 137.8L362.7 141.6L358.5 141.6Z" fill="#1515d0" stroke="#1515d0" stroke-width="0.5" stroke-linejoin="miter"/>
<path d="M366.7 138.8L368.8 142.6L364.6 142.6Z" fill="#1515d0" stroke="#1515d0" stroke-width="0.5" stroke-linejoin="miter"/>
<path d="M378.9 139.8L381.0 143.6L376.8 143.6Z" fill="#1515d0" stroke="#1515d0" stroke-width="0.5" stroke-linejoin="miter"/>
<path d="M383.9 138.8L386.0 142.6L381.8 142.6Z" fill="#1515d0" stroke="#1515d0" stroke-width="0.5" stroke-linejoin="miter"/>
<path d="M388.0 139.8L390.1 143.6L385.9 143.6Z" fill="#1515d0" stroke="#1515d0" stroke-width="0.5" stroke-linejoin="miter"/>
<path d="M401.2 140.8L403.3 144.6L399.1 144.6Z" fill="#1515d0" stroke="#1515d0" stroke-width="0.5" stroke-linejoin="miter"/>
<path d="M365.7 141.8L367.8 145.6L363.6 145.6Z" fill="#1515d0" stroke="#1515d0" stroke-width="0.5" stroke-linejoin="miter"/>
<path d="M371.7 143.9L373.8 147.7L369.6 147.7Z" fill="#1515d0" stroke="#1515d0" stroke-width="0.5" stroke-linejoin="miter"/>
<path d="M380.9 142.9L383.0 146.7L378.8 146.7Z" fill="#1515d0" stroke="#1515d0" stroke-width="0.5" stroke-linejoin="miter"/>
<path d="M390.0 143.9L392.1 147.7L387.9 147.7Z" fill="#1515d0" stroke="#1515d0" stroke-width="0.5" stroke-linejoin="miter"/>
<path d="M374.8 147.9L376.9 151.7L372.7 151.7Z" fill="#1515d0" stroke="#1515d0" stroke-width="0.5" stroke-linejoin="miter"/>
<path d="M364.6 146.9L366.7 150.7L362.5 150.7Z" fill="#1515d0" stroke="#1515d0" stroke-width="0.5" stroke-linejoin="miter"/>
<path d="M331.1 138.8L333.2 142.6L329.0 142.6Z" fill="#1515d0" stroke="#1515d0" stroke-width="0.5" stroke-linejoin="miter"/>
<path d="M333.1 153.0L335.2 156.8L331.0 156.8Z" fill="#1515d0" stroke="#1515d0" stroke-width="0.5" stroke-linejoin="miter"/>
<path d="M355.5 153.0L357.6 156.8L353.4 156.8Z" fill="#1515d0" stroke="#1515d0" stroke-width="0.5" stroke-linejoin="miter"/>
<path d="M360.6 127.6L362.7 131.4L358.5 131.4Z" fill="#1515d0" stroke="#1515d0" stroke-width="0.5" stroke-linejoin="miter"/>
<path d="M367.7 129.6L369.8 133.4L365.6 133.4Z" fill="#1515d0" stroke="#1515d0" stroke-width="0.5" stroke-linejoin="miter"/>
<path d="M354.5 123.6L356.6 127.4L352.4 127.4Z" fill="#1515d0" stroke="#1515d0" stroke-width="0.5" stroke-linejoin="miter"/>
<path d="M352.0 134.9L354.1 138.7L349.9 138.7Z" fill="#1515d0" stroke="#1515d0" stroke-width="0.5" stroke-linejoin="miter"/>
<path d="M369.0 150.9L371.1 154.7L366.9 154.7Z" fill="#1515d0" stroke="#1515d0" stroke-width="0.5" stroke-linejoin="miter"/>
<path d="M385.0 149.9L387.1 153.7L382.9 153.7Z" fill="#1515d0" stroke="#1515d0" stroke-width="0.5" stroke-linejoin="miter"/>
<path d="M376.0 154.9L378.1 158.7L373.9 158.7Z" fill="#1515d0" stroke="#1515d0" stroke-width="0.5" stroke-linejoin="miter"/>
<path d="M291.6 61.4L294.7 66.8L288.5 66.8Z" fill="#33dd33" stroke="#000" stroke-width="0.9" stroke-linejoin="miter"/>
<path d="M300.2 66.6L303.3 72.0L297.1 72.0Z" fill="#33dd33" stroke="#000" stroke-width="0.9" stroke-linejoin="miter"/>
<path d="M290.6 70.7L293.7 76.1L287.5 76.1Z" fill="#33dd33" stroke="#000" stroke-width="0.9" stroke-linejoin="miter"/>
<path d="M308.3 75.8L311.4 81.2L305.2 81.2Z" fill="#33dd33" stroke="#000" stroke-width="0.9" stroke-linejoin="miter"/>
<path d="M296.4 71.6L299.5 77.0L293.3 77.0Z" fill="#33dd33" stroke="#000" stroke-width="0.9" stroke-linejoin="miter"/>
<path d="M288.1 86.0L291.2 91.4L285.0 91.4Z" fill="#33dd33" stroke="#000" stroke-width="0.9" stroke-linejoin="miter"/>
<path d="M313.2 108.4L316.3 113.8L310.1 113.8Z" fill="#33dd33" stroke="#000" stroke-width="0.9" stroke-linejoin="miter"/>
<path d="M319.3 107.4L322.4 112.8L316.2 112.8Z" fill="#33dd33" stroke="#000" stroke-width="0.9" stroke-linejoin="miter"/>
<path d="M327.4 108.4L330.5 113.8L324.3 113.8Z" fill="#33dd33" stroke="#000" stroke-width="0.9" stroke-linejoin="miter"/>
<path d="M329.4 117.6L332.5 123.0L326.3 123.0Z" fill="#33dd33" stroke="#000" stroke-width="0.9" stroke-linejoin="miter"/>
<path d="M327.4 126.3L330.5 131.7L324.3 131.7Z" fill="#33dd33" stroke="#000" stroke-width="0.9" stroke-linejoin="miter"/>
<path d="M324.3 139.9L327.4 145.3L321.2 145.3Z" fill="#33dd33" stroke="#000" stroke-width="0.9" stroke-linejoin="miter"/>
<path d="M356.5 87.1L359.6 92.5L353.4 92.5Z" fill="#33dd33" stroke="#000" stroke-width="0.9" stroke-linejoin="miter"/>
<path d="M361.6 91.1L364.7 96.5L358.5 96.5Z" fill="#33dd33" stroke="#000" stroke-width="0.9" stroke-linejoin="miter"/>
<path d="M352.4 96.2L355.5 101.6L349.3 101.6Z" fill="#33dd33" stroke="#000" stroke-width="0.9" stroke-linejoin="miter"/>
<path d="M343.3 103.3L346.4 108.7L340.2 108.7Z" fill="#33dd33" stroke="#000" stroke-width="0.9" stroke-linejoin="miter"/>
<path d="M339.2 107.4L342.3 112.8L336.1 112.8Z" fill="#33dd33" stroke="#000" stroke-width="0.9" stroke-linejoin="miter"/>
<path d="M328.0 109.4L331.1 114.8L324.9 114.8Z" fill="#33dd33" stroke="#000" stroke-width="0.9" stroke-linejoin="miter"/>
<path d="M344.3 111.5L347.4 116.9L341.2 116.9Z" fill="#33dd33" stroke="#000" stroke-width="0.9" stroke-linejoin="miter"/>
<path d="M365.7 108.4L368.8 113.8L362.6 113.8Z" fill="#33dd33" stroke="#000" stroke-width="0.9" stroke-linejoin="miter"/>
<path d="M366.7 113.5L369.8 118.9L363.6 118.9Z" fill="#33dd33" stroke="#000" stroke-width="0.9" stroke-linejoin="miter"/>
<path d="M353.5 114.5L356.6 119.9L350.4 119.9Z" fill="#33dd33" stroke="#000" stroke-width="0.9" stroke-linejoin="miter"/>
<path d="M330.1 116.6L333.2 122.0L327.0 122.0Z" fill="#33dd33" stroke="#000" stroke-width="0.9" stroke-linejoin="miter"/>
<path d="M342.3 118.2L345.4 123.6L339.2 123.6Z" fill="#33dd33" stroke="#000" stroke-width="0.9" stroke-linejoin="miter"/>
<path d="M348.4 120.6L351.5 126.0L345.3 126.0Z" fill="#33dd33" stroke="#000" stroke-width="0.9" stroke-linejoin="miter"/>
<path d="M356.5 121.6L359.6 127.0L353.4 127.0Z" fill="#33dd33" stroke="#000" stroke-width="0.9" stroke-linejoin="miter"/>
<path d="M362.6 122.7L365.7 128.1L359.5 128.1Z" fill="#33dd33" stroke="#000" stroke-width="0.9" stroke-linejoin="miter"/>
<path d="M350.4 124.7L353.5 130.1L347.3 130.1Z" fill="#33dd33" stroke="#000" stroke-width="0.9" stroke-linejoin="miter"/>
<path d="M328.0 126.7L331.1 132.1L324.9 132.1Z" fill="#33dd33" stroke="#000" stroke-width="0.9" stroke-linejoin="miter"/>
<path d="M338.2 136.9L341.3 142.3L335.1 142.3Z" fill="#33dd33" stroke="#000" stroke-width="0.9" stroke-linejoin="miter"/>
<path d="M326.0 139.9L329.1 145.3L322.9 145.3Z" fill="#33dd33" stroke="#000" stroke-width="0.9" stroke-linejoin="miter"/>
<path d="M355.0 115.5L358.1 120.9L351.9 120.9Z" fill="#33dd33" stroke="#000" stroke-width="0.9" stroke-linejoin="miter"/>
<path d="M362.6 117.0L365.7 122.4L359.5 122.4Z" fill="#33dd33" stroke="#000" stroke-width="0.9" stroke-linejoin="miter"/>
<rect x="255.7" y="62.4" width="6.0" height="6.0" fill="#ff9f00" stroke="#1a1000" stroke-width="1.1"/>
<rect x="279.9" y="60.1" width="6.0" height="6.0" fill="#ff9f00" stroke="#1a1000" stroke-width="1.1"/>
<rect x="292.8" y="75.8" width="6.0" height="6.0" fill="#ff9f00" stroke="#1a1000" stroke-width="1.1"/>
<rect x="314.9" y="63.7" width="6.0" height="6.0" fill="#ff9f00" stroke="#1a1000" stroke-width="1.1"/>
<rect x="320.1" y="81.0" width="6.0" height="6.0" fill="#ff9f00" stroke="#1a1000" stroke-width="1.1"/>
<rect x="298.8" y="84.7" width="6.0" height="6.0" fill="#ff9f00" stroke="#1a1000" stroke-width="1.1"/>
<rect x="351.4" y="66.2" width="6.0" height="6.0" fill="#ff9f00" stroke="#1a1000" stroke-width="1.1"/>
<rect x="364.3" y="84.7" width="6.0" height="6.0" fill="#ff9f00" stroke="#1a1000" stroke-width="1.1"/>
<rect x="372.4" y="86.4" width="6.0" height="6.0" fill="#ff9f00" stroke="#1a1000" stroke-width="1.1"/>
<rect x="284.3" y="99.9" width="6.0" height="6.0" fill="#ff9f00" stroke="#1a1000" stroke-width="1.1"/>
<rect x="342.3" y="90.5" width="6.0" height="6.0" fill="#ff9f00" stroke="#1a1000" stroke-width="1.1"/>
<rect x="371.8" y="88.1" width="6.0" height="6.0" fill="#ff9f00" stroke="#1a1000" stroke-width="1.1"/>
<rect x="385.4" y="90.1" width="6.0" height="6.0" fill="#ff9f00" stroke="#1a1000" stroke-width="1.1"/>
<rect x="365.7" y="96.2" width="6.0" height="6.0" fill="#ff9f00" stroke="#1a1000" stroke-width="1.1"/>
<rect x="375.3" y="95.2" width="6.0" height="6.0" fill="#ff9f00" stroke="#1a1000" stroke-width="1.1"/>
<rect x="365.7" y="100.3" width="6.0" height="6.0" fill="#ff9f00" stroke="#1a1000" stroke-width="1.1"/>
<rect x="374.8" y="99.3" width="6.0" height="6.0" fill="#ff9f00" stroke="#1a1000" stroke-width="1.1"/>
<rect x="375.3" y="103.3" width="6.0" height="6.0" fill="#ff9f00" stroke="#1a1000" stroke-width="1.1"/>
<rect x="367.7" y="102.3" width="6.0" height="6.0" fill="#ff9f00" stroke="#1a1000" stroke-width="1.1"/>
<rect x="286.9" y="50.1" width="5.6" height="5.6" fill="none" stroke="#e02020" stroke-width="1.0"/>
<rect x="289.7" y="61.6" width="5.6" height="5.6" fill="none" stroke="#e02020" stroke-width="1.0"/>
<rect x="351.0" y="72.2" width="5.6" height="5.6" fill="none" stroke="#e02020" stroke-width="1.0"/>
<rect x="375.7" y="3.5" width="5.6" height="5.6" fill="none" stroke="#e07020" stroke-width="1.0"/>
<rect x="271.6" y="53.1" width="6.2" height="6.2" fill="#ff0000" stroke="#ff0000" stroke-width="0.6"/>
<rect x="304.8" y="69.4" width="6.2" height="6.2" fill="#ff0000" stroke="#ff0000" stroke-width="0.6"/>
<rect x="306.7" y="81.5" width="6.2" height="6.2" fill="#ff0000" stroke="#ff0000" stroke-width="0.6"/>
<rect x="311.2" y="81.5" width="6.2" height="6.2" fill="#ff0000" stroke="#ff0000" stroke-width="0.6"/>
<rect x="330.2" y="31.1" width="6.2" height="6.2" fill="#ff0000" stroke="#ff0000" stroke-width="0.6"/>
<rect x="377.3" y="51.1" width="6.2" height="6.2" fill="#ff0000" stroke="#ff0000" stroke-width="0.6"/>
<rect x="369.6" y="69.0" width="6.2" height="6.2" fill="#ff0000" stroke="#ff0000" stroke-width="0.6"/>
<rect x="340.6" y="73.2" width="6.2" height="6.2" fill="#ff0000" stroke="#ff0000" stroke-width="0.6"/>
<rect x="340.6" y="83.7" width="6.2" height="6.2" fill="#ff0000" stroke="#ff0000" stroke-width="0.6"/>
<rect x="354.0" y="100.2" width="6.2" height="6.2" fill="#ff0000" stroke="#ff0000" stroke-width="0.6"/>
<rect x="369.7" y="103.9" width="6.2" height="6.2" fill="#ff0000" stroke="#ff0000" stroke-width="0.6"/>
<rect x="383.5" y="101.6" width="6.2" height="6.2" fill="#ff0000" stroke="#ff0000" stroke-width="0.6"/>
<path d="M265.0 134.8L274.4 113.6" stroke="#8b2be6" stroke-width="1.0"/>
<path d="M277.6 106.3L277.6 115.0L271.2 112.2Z" fill="#8b2be6" stroke="#8b2be6" stroke-width="1"/>
<path d="M265.0 134.8L273.2 164.7" stroke="#000" stroke-width="1.0"/>
<path d="M275.6 173.4L269.4 165.8L277.1 163.7Z" fill="#000" stroke="#000" stroke-width="1"/>
<path d="M265.0 134.8L301.6 158.0" stroke="#000" stroke-width="1.0"/>
<path d="M310.1 163.3L299.5 161.3L303.8 154.6Z" fill="#fff" stroke="#000" stroke-width="1"/>
<path d="M293.5 18.8H305.1M299.3 13.0V24.6" stroke="#1010d0" stroke-width="2.0" fill="none"/>
<path d="M308.8 18.7H348.8M328.8 7.7V29.7" stroke="#33ee33" stroke-width="2.0" fill="none"/>
<path d="M353.7 18.7H391.7M372.7 6.7V30.7" stroke="#f9a030" stroke-width="1.9" fill="none"/>
<path d="M364.4 18.7H368.3M378.8 18.7H382.7M372.7 11.5V14.4M372.7 23.0V30.8" stroke="#d0202a" stroke-width="1.9" fill="none"/>
<g clip-path="url(#cc)">
<path d="M438.0 0.0L445.0 19.0L454.0 44.0L461.0 63.0L466.0 77.0L470.0 85.0L476.0 100.0L486.0 112.0L500.0 123.0L516.0 133.0L535.0 145.0L555.0 157.0L572.0 168.0L581.0 176.0" fill="none" stroke="#000" stroke-width="2.2" stroke-dasharray="9 3.5 1.5 3.5" stroke-dashoffset="9" stroke-linecap="butt" stroke-linejoin="round" opacity="1.00"/>
<path d="M444.0 3.0L452.0 10.0L460.0 17.0L468.0 21.0L474.0 29.0L481.0 35.0L486.0 42.0L490.0 50.0L495.0 58.0L502.0 68.0L510.0 80.0L520.0 95.0L535.0 112.0L550.0 130.0L565.0 150.0L578.0 172.0" fill="none" stroke="#000" stroke-width="2.2" stroke-dasharray="9 3.5 1.5 3.5" stroke-dashoffset="15" stroke-linecap="butt" stroke-linejoin="round" opacity="1.00"/>
<path d="M448.0 27.0L460.0 35.0L468.0 42.0L474.0 47.0L482.0 54.0L492.0 64.0L505.0 78.0L518.0 94.0L532.0 112.0L548.0 132.0L562.0 152.0L576.0 174.0" fill="none" stroke="#000" stroke-width="2.2" stroke-dasharray="9 3.5 1.5 3.5" stroke-dashoffset="6" stroke-linecap="butt" stroke-linejoin="round" opacity="1.00"/>
<path d="M458.0 57.0L470.0 65.0L478.0 72.0L490.0 84.0L505.0 98.0L520.0 112.0L537.0 128.0L553.0 145.0L567.0 160.0L580.0 176.0" fill="none" stroke="#000" stroke-width="2.2" stroke-dasharray="9 3.5 1.5 3.5" stroke-dashoffset="11" stroke-linecap="butt" stroke-linejoin="round" opacity="1.00"/>
<path d="M446.0 0.0L474.0 20.0L490.0 32.0L508.0 40.0L531.0 58.0L548.0 75.0L560.0 95.0L570.0 120.0L577.0 145.0L581.0 172.0" fill="none" stroke="#000" stroke-width="2.2" stroke-dasharray="9 3.5 1.5 3.5" stroke-dashoffset="12" stroke-linecap="butt" stroke-linejoin="round" opacity="1.00"/>
<path d="M489.0 40.0L497.0 46.0L512.0 58.0L525.0 72.0L538.0 90.0L550.0 110.0L560.0 132.0L570.0 155.0L579.0 175.0" fill="none" stroke="#000" stroke-width="2.2" stroke-dasharray="9 3.5 1.5 3.5" stroke-dashoffset="2" stroke-linecap="butt" stroke-linejoin="round" opacity="1.00"/>
<path d="M509.0 133.7L529.3 131.7L539.5 139.8L553.7 152.0L565.9 162.0L574.0 172.2" fill="none" stroke="#000" stroke-width="2.2" stroke-dasharray="9 3.5 1.5 3.5" stroke-dashoffset="0" stroke-linecap="butt" stroke-linejoin="round" opacity="1.00"/>
<path d="M441.0 11.5L452.5 26.9L462.2 36.5L473.7 46.2L481.4 55.8L490.0 67.0L500.0 80.0L510.0 95.0L522.0 112.0L535.0 128.0L550.0 145.0L565.0 160.0L578.0 176.0" fill="none" stroke="#2a2ab0" stroke-width="1.1" stroke-dasharray="8 3 1.2 3" stroke-dashoffset="3" stroke-linecap="butt" stroke-linejoin="round" opacity="1.00"/>
<path d="M448.7 28.8L454.5 44.2L464.0 57.7L472.0 70.0L480.0 82.0L492.0 98.0L505.0 112.0L520.0 127.0L536.0 142.0L552.0 157.0L566.0 172.0" fill="none" stroke="#2a2ab0" stroke-width="1.1" stroke-dasharray="8 3 1.2 3" stroke-dashoffset="7" stroke-linecap="butt" stroke-linejoin="round" opacity="1.00"/>
<path d="M454.5 50.0L462.0 70.0L468.0 88.5L472.0 100.0L479.0 120.0L490.0 140.0L507.0 155.0L526.0 169.0L535.0 178.0" fill="none" stroke="#2a2ab0" stroke-width="1.1" stroke-dasharray="8 3 1.2 3" stroke-dashoffset="1" stroke-linecap="butt" stroke-linejoin="round" opacity="1.00"/>
<path d="M469.0 84.0L483.0 112.0L502.0 131.0L521.0 147.6L540.0 164.0L554.0 176.0" fill="none" stroke="#2a2ab0" stroke-width="1.1" stroke-dasharray="8 3 1.2 3" stroke-dashoffset="10" stroke-linecap="butt" stroke-linejoin="round" opacity="1.00"/>
<path d="M473.8 100.6L492.6 121.8L513.8 135.9L532.6 150.0L551.0 163.0L565.0 175.0" fill="none" stroke="#2a2ab0" stroke-width="1.1" stroke-dasharray="8 3 1.2 3" stroke-dashoffset="5" stroke-linecap="butt" stroke-linejoin="round" opacity="1.00"/>
<path d="M466.8 87.0L471.9 105.3L479.0 119.6L489.2 131.7L499.3 143.9L515.0 158.0L530.0 170.0L540.0 178.0" fill="none" stroke="#2a2ab0" stroke-width="1.1" stroke-dasharray="8 3 1.2 3" stroke-dashoffset="4" stroke-linecap="butt" stroke-linejoin="round" opacity="1.00"/>
<path d="M434.0 0.0L440.7 10.7L447.0 21.3L456.4 50.0L464.0 73.0L468.0 84.6L472.0 95.0L478.0 108.0L490.0 120.0" fill="none" stroke="#3fcf3f" stroke-width="1.1" stroke-dasharray="9 3.5 1.2 3.5" stroke-dashoffset="14" stroke-linecap="butt" stroke-linejoin="round" opacity="1.00"/>
<path d="M448.7 3.8L473.7 19.2L483.3 25.0L498.7 34.6L505.0 40.4L516.5 48.0L528.0 55.8L537.7 65.4L549.2 77.0L557.0 90.0L565.9 105.3L574.0 125.6L578.0 141.8L581.0 160.0" fill="none" stroke="#3fcf3f" stroke-width="1.1" stroke-dasharray="9 3.5 1.2 3.5" stroke-dashoffset="16" stroke-linecap="butt" stroke-linejoin="round" opacity="1.00"/>
<path d="M468.0 15.4L479.5 25.0L490.0 33.0L500.0 42.0L510.0 52.0L520.0 60.0L528.0 68.0" fill="none" stroke="#3fcf3f" stroke-width="1.1" stroke-dasharray="9 3.5 1.2 3.5" stroke-dashoffset="13" stroke-linecap="butt" stroke-linejoin="round" opacity="1.00"/>
<path d="M528.0 55.8L533.8 65.4L541.5 78.8L548.0 92.0L553.0 105.0" fill="none" stroke="#3fcf3f" stroke-width="1.1" stroke-dasharray="9 3.5 1.2 3.5" stroke-dashoffset="9" stroke-linecap="butt" stroke-linejoin="round" opacity="1.00"/>
<path d="M553.7 90.0L559.8 103.3L563.8 117.5L569.9 133.7L575.0 147.9L578.0 160.0" fill="none" stroke="#3fcf3f" stroke-width="1.1" stroke-dasharray="9 3.5 1.2 3.5" stroke-dashoffset="15" stroke-linecap="butt" stroke-linejoin="round" opacity="1.00"/>
<path d="M475.0 95.0L483.0 103.3L495.0 112.0L505.0 118.0" fill="none" stroke="#3fcf3f" stroke-width="1.1" stroke-dasharray="9 3.5 1.2 3.5" stroke-dashoffset="6" stroke-linecap="butt" stroke-linejoin="round" opacity="1.00"/>
</g>
<path d="M503.5 75.8L505.6 79.6L501.4 79.6Z" fill="#1515d0" stroke="#1515d0" stroke-width="0.5" stroke-linejoin="miter"/>
<path d="M547.3 76.7L549.4 80.5L545.2 80.5Z" fill="#1515d0" stroke="#1515d0" stroke-width="0.5" stroke-linejoin="miter"/>
<path d="M506.0 75.8L508.1 79.6L503.9 79.6Z" fill="#1515d0" stroke="#1515d0" stroke-width="0.5" stroke-linejoin="miter"/>
<path d="M541.5 111.3L543.6 115.1L539.4 115.1Z" fill="#1515d0" stroke="#1515d0" stroke-width="0.5" stroke-linejoin="miter"/>
<path d="M544.6 119.4L546.7 123.2L542.5 123.2Z" fill="#1515d0" stroke="#1515d0" stroke-width="0.5" stroke-linejoin="miter"/>
<path d="M553.7 115.4L555.8 119.2L551.6 119.2Z" fill="#1515d0" stroke="#1515d0" stroke-width="0.5" stroke-linejoin="miter"/>
<path d="M550.6 119.4L552.7 123.2L548.5 123.2Z" fill="#1515d0" stroke="#1515d0" stroke-width="0.5" stroke-linejoin="miter"/>
<path d="M565.9 122.5L568.0 126.3L563.8 126.3Z" fill="#1515d0" stroke="#1515d0" stroke-width="0.5" stroke-linejoin="miter"/>
<path d="M537.5 130.6L539.6 134.4L535.4 134.4Z" fill="#1515d0" stroke="#1515d0" stroke-width="0.5" stroke-linejoin="miter"/>
<path d="M543.5 131.6L545.6 135.4L541.4 135.4Z" fill="#1515d0" stroke="#1515d0" stroke-width="0.5" stroke-linejoin="miter"/>
<path d="M546.6 135.6L548.7 139.4L544.5 139.4Z" fill="#1515d0" stroke="#1515d0" stroke-width="0.5" stroke-linejoin="miter"/>
<path d="M548.6 133.6L550.7 137.4L546.5 137.4Z" fill="#1515d0" stroke="#1515d0" stroke-width="0.5" stroke-linejoin="miter"/>
<path d="M555.7 131.6L557.8 135.4L553.6 135.4Z" fill="#1515d0" stroke="#1515d0" stroke-width="0.5" stroke-linejoin="miter"/>
<path d="M570.9 132.6L573.0 136.4L568.8 136.4Z" fill="#1515d0" stroke="#1515d0" stroke-width="0.5" stroke-linejoin="miter"/>
<path d="M519.2 133.6L521.3 137.4L517.1 137.4Z" fill="#1515d0" stroke="#1515d0" stroke-width="0.5" stroke-linejoin="miter"/>
<path d="M523.3 138.7L525.4 142.5L521.2 142.5Z" fill="#1515d0" stroke="#1515d0" stroke-width="0.5" stroke-linejoin="miter"/>
<path d="M534.4 138.7L536.5 142.5L532.3 142.5Z" fill="#1515d0" stroke="#1515d0" stroke-width="0.5" stroke-linejoin="miter"/>
<path d="M544.6 137.7L546.7 141.5L542.5 141.5Z" fill="#1515d0" stroke="#1515d0" stroke-width="0.5" stroke-linejoin="miter"/>
<path d="M550.6 140.7L552.7 144.5L548.5 144.5Z" fill="#1515d0" stroke="#1515d0" stroke-width="0.5" stroke-linejoin="miter"/>
<path d="M556.7 138.7L558.8 142.5L554.6 142.5Z" fill="#1515d0" stroke="#1515d0" stroke-width="0.5" stroke-linejoin="miter"/>
<path d="M561.8 141.7L563.9 145.5L559.7 145.5Z" fill="#1515d0" stroke="#1515d0" stroke-width="0.5" stroke-linejoin="miter"/>
<path d="M564.8 139.7L566.9 143.5L562.7 143.5Z" fill="#1515d0" stroke="#1515d0" stroke-width="0.5" stroke-linejoin="miter"/>
<path d="M571.9 141.7L574.0 145.5L569.8 145.5Z" fill="#1515d0" stroke="#1515d0" stroke-width="0.5" stroke-linejoin="miter"/>
<path d="M538.5 145.8L540.6 149.6L536.4 149.6Z" fill="#1515d0" stroke="#1515d0" stroke-width="0.5" stroke-linejoin="miter"/>
<path d="M549.6 144.8L551.7 148.6L547.5 148.6Z" fill="#1515d0" stroke="#1515d0" stroke-width="0.5" stroke-linejoin="miter"/>
<path d="M554.7 146.8L556.8 150.6L552.6 150.6Z" fill="#1515d0" stroke="#1515d0" stroke-width="0.5" stroke-linejoin="miter"/>
<path d="M540.5 152.9L542.6 156.7L538.4 156.7Z" fill="#1515d0" stroke="#1515d0" stroke-width="0.5" stroke-linejoin="miter"/>
<path d="M524.3 152.9L526.4 156.7L522.2 156.7Z" fill="#1515d0" stroke="#1515d0" stroke-width="0.5" stroke-linejoin="miter"/>
<path d="M514.1 104.2L516.2 108.0L512.0 108.0Z" fill="#1515d0" stroke="#1515d0" stroke-width="0.5" stroke-linejoin="miter"/>
<path d="M552.7 125.5L554.8 129.3L550.6 129.3Z" fill="#1515d0" stroke="#1515d0" stroke-width="0.5" stroke-linejoin="miter"/>
<path d="M559.8 128.5L561.9 132.3L557.7 132.3Z" fill="#1515d0" stroke="#1515d0" stroke-width="0.5" stroke-linejoin="miter"/>
<path d="M545.6 128.5L547.7 132.3L543.5 132.3Z" fill="#1515d0" stroke="#1515d0" stroke-width="0.5" stroke-linejoin="miter"/>
<path d="M558.8 136.7L560.9 140.5L556.7 140.5Z" fill="#1515d0" stroke="#1515d0" stroke-width="0.5" stroke-linejoin="miter"/>
<path d="M530.0 143.9L532.1 147.7L527.9 147.7Z" fill="#1515d0" stroke="#1515d0" stroke-width="0.5" stroke-linejoin="miter"/>
<path d="M560.0 149.9L562.1 153.7L557.9 153.7Z" fill="#1515d0" stroke="#1515d0" stroke-width="0.5" stroke-linejoin="miter"/>
<path d="M566.0 155.9L568.1 159.7L563.9 159.7Z" fill="#1515d0" stroke="#1515d0" stroke-width="0.5" stroke-linejoin="miter"/>
<path d="M548.0 157.9L550.1 161.7L545.9 161.7Z" fill="#1515d0" stroke="#1515d0" stroke-width="0.5" stroke-linejoin="miter"/>
<path d="M536.0 124.9L538.1 128.7L533.9 128.7Z" fill="#1515d0" stroke="#1515d0" stroke-width="0.5" stroke-linejoin="miter"/>
<path d="M483.3 71.6L486.4 77.0L480.2 77.0Z" fill="#33dd33" stroke="#000" stroke-width="0.9" stroke-linejoin="miter"/>
<path d="M495.8 61.4L498.9 66.8L492.7 66.8Z" fill="#33dd33" stroke="#000" stroke-width="0.9" stroke-linejoin="miter"/>
<path d="M492.9 67.2L496.0 72.6L489.8 72.6Z" fill="#33dd33" stroke="#000" stroke-width="0.9" stroke-linejoin="miter"/>
<path d="M492.9 73.0L496.0 78.4L489.8 78.4Z" fill="#33dd33" stroke="#000" stroke-width="0.9" stroke-linejoin="miter"/>
<path d="M497.7 76.8L500.8 82.2L494.6 82.2Z" fill="#33dd33" stroke="#000" stroke-width="0.9" stroke-linejoin="miter"/>
<path d="M493.2 86.1L496.3 91.5L490.1 91.5Z" fill="#33dd33" stroke="#000" stroke-width="0.9" stroke-linejoin="miter"/>
<path d="M503.4 108.4L506.5 113.8L500.3 113.8Z" fill="#33dd33" stroke="#000" stroke-width="0.9" stroke-linejoin="miter"/>
<path d="M508.0 107.4L511.1 112.8L504.9 112.8Z" fill="#33dd33" stroke="#000" stroke-width="0.9" stroke-linejoin="miter"/>
<path d="M518.2 109.4L521.3 114.8L515.1 114.8Z" fill="#33dd33" stroke="#000" stroke-width="0.9" stroke-linejoin="miter"/>
<path d="M528.3 107.4L531.4 112.8L525.2 112.8Z" fill="#33dd33" stroke="#000" stroke-width="0.9" stroke-linejoin="miter"/>
<path d="M527.3 111.4L530.4 116.8L524.2 116.8Z" fill="#33dd33" stroke="#000" stroke-width="0.9" stroke-linejoin="miter"/>
<path d="M546.6 108.4L549.7 113.8L543.5 113.8Z" fill="#33dd33" stroke="#000" stroke-width="0.9" stroke-linejoin="miter"/>
<path d="M535.4 114.5L538.5 119.9L532.3 119.9Z" fill="#33dd33" stroke="#000" stroke-width="0.9" stroke-linejoin="miter"/>
<path d="M516.2 117.5L519.3 122.9L513.1 122.9Z" fill="#33dd33" stroke="#000" stroke-width="0.9" stroke-linejoin="miter"/>
<path d="M527.3 117.5L530.4 122.9L524.2 122.9Z" fill="#33dd33" stroke="#000" stroke-width="0.9" stroke-linejoin="miter"/>
<path d="M538.5 115.5L541.6 120.9L535.4 120.9Z" fill="#33dd33" stroke="#000" stroke-width="0.9" stroke-linejoin="miter"/>
<path d="M528.3 121.6L531.4 127.0L525.2 127.0Z" fill="#33dd33" stroke="#000" stroke-width="0.9" stroke-linejoin="miter"/>
<path d="M533.4 124.6L536.5 130.0L530.3 130.0Z" fill="#33dd33" stroke="#000" stroke-width="0.9" stroke-linejoin="miter"/>
<path d="M545.6 123.6L548.7 129.0L542.5 129.0Z" fill="#33dd33" stroke="#000" stroke-width="0.9" stroke-linejoin="miter"/>
<path d="M525.3 126.6L528.4 132.0L522.2 132.0Z" fill="#33dd33" stroke="#000" stroke-width="0.9" stroke-linejoin="miter"/>
<path d="M526.3 136.8L529.4 142.2L523.2 142.2Z" fill="#33dd33" stroke="#000" stroke-width="0.9" stroke-linejoin="miter"/>
<path d="M515.1 140.4L518.2 145.8L512.0 145.8Z" fill="#33dd33" stroke="#000" stroke-width="0.9" stroke-linejoin="miter"/>
<rect x="455.7" y="62.4" width="6.0" height="6.0" fill="#ff9f00" stroke="#1a1000" stroke-width="1.1"/>
<rect x="472.6" y="75.8" width="6.0" height="6.0" fill="#ff9f00" stroke="#1a1000" stroke-width="1.1"/>
<rect x="499.2" y="63.3" width="6.0" height="6.0" fill="#ff9f00" stroke="#1a1000" stroke-width="1.1"/>
<rect x="494.7" y="84.5" width="6.0" height="6.0" fill="#ff9f00" stroke="#1a1000" stroke-width="1.1"/>
<rect x="517.4" y="65.8" width="6.0" height="6.0" fill="#ff9f00" stroke="#1a1000" stroke-width="1.1"/>
<rect x="473.6" y="99.3" width="6.0" height="6.0" fill="#ff9f00" stroke="#1a1000" stroke-width="1.1"/>
<rect x="530.4" y="86.1" width="6.0" height="6.0" fill="#ff9f00" stroke="#1a1000" stroke-width="1.1"/>
<rect x="535.5" y="85.5" width="6.0" height="6.0" fill="#ff9f00" stroke="#1a1000" stroke-width="1.1"/>
<rect x="539.5" y="90.1" width="6.0" height="6.0" fill="#ff9f00" stroke="#1a1000" stroke-width="1.1"/>
<rect x="528.4" y="90.1" width="6.0" height="6.0" fill="#ff9f00" stroke="#1a1000" stroke-width="1.1"/>
<rect x="539.5" y="96.2" width="6.0" height="6.0" fill="#ff9f00" stroke="#1a1000" stroke-width="1.1"/>
<rect x="533.4" y="99.2" width="6.0" height="6.0" fill="#ff9f00" stroke="#1a1000" stroke-width="1.1"/>
<rect x="533.4" y="105.3" width="6.0" height="6.0" fill="#ff9f00" stroke="#1a1000" stroke-width="1.1"/>
<rect x="547.6" y="100.3" width="6.0" height="6.0" fill="#ff9f00" stroke="#1a1000" stroke-width="1.1"/>
<rect x="539.5" y="101.3" width="6.0" height="6.0" fill="#ff9f00" stroke="#1a1000" stroke-width="1.1"/>
<rect x="424.4" y="38.0" width="5.6" height="5.6" fill="none" stroke="#e02020" stroke-width="1.0"/>
<rect x="488.6" y="49.1" width="5.6" height="5.6" fill="none" stroke="#e02020" stroke-width="1.0"/>
<rect x="486.3" y="62.2" width="5.6" height="5.6" fill="none" stroke="#e02020" stroke-width="1.0"/>
<rect x="533.0" y="70.7" width="5.6" height="5.6" fill="none" stroke="#e02020" stroke-width="1.0"/>
<rect x="484.4" y="53.1" width="6.2" height="6.2" fill="#ff0000" stroke="#ff0000" stroke-width="0.6"/>
<rect x="499.4" y="69.6" width="6.2" height="6.2" fill="#ff0000" stroke="#ff0000" stroke-width="0.6"/>
<rect x="507.1" y="31.1" width="6.2" height="6.2" fill="#ff0000" stroke="#ff0000" stroke-width="0.6"/>
<rect x="547.5" y="51.3" width="6.2" height="6.2" fill="#ff0000" stroke="#ff0000" stroke-width="0.6"/>
<rect x="545.2" y="69.0" width="6.2" height="6.2" fill="#ff0000" stroke="#ff0000" stroke-width="0.6"/>
<rect x="525.9" y="73.4" width="6.2" height="6.2" fill="#ff0000" stroke="#ff0000" stroke-width="0.6"/>
<rect x="510.6" y="80.9" width="6.2" height="6.2" fill="#ff0000" stroke="#ff0000" stroke-width="0.6"/>
<rect x="517.3" y="80.9" width="6.2" height="6.2" fill="#ff0000" stroke="#ff0000" stroke-width="0.6"/>
<rect x="524.0" y="83.4" width="6.2" height="6.2" fill="#ff0000" stroke="#ff0000" stroke-width="0.6"/>
<rect x="527.3" y="100.2" width="6.2" height="6.2" fill="#ff0000" stroke="#ff0000" stroke-width="0.6"/>
<rect x="538.4" y="103.2" width="6.2" height="6.2" fill="#ff0000" stroke="#ff0000" stroke-width="0.6"/>
<rect x="553.6" y="101.2" width="6.2" height="6.2" fill="#ff0000" stroke="#ff0000" stroke-width="0.6"/>
<path d="M453.0 134.8L453.0 113.3" stroke="#8b2be6" stroke-width="1.2"/>
<path d="M453.0 105.3L457.5 113.3L448.5 113.3Z" fill="#8b2be6" stroke="#8b2be6" stroke-width="1"/>
<path d="M453.0 134.8L462.2 164.8" stroke="#000" stroke-width="1.0"/>
<path d="M464.8 173.4L458.3 166.0L466.0 163.6Z" fill="#000" stroke="#000" stroke-width="1"/>
<path d="M453.0 134.8L481.8 160.6" stroke="#000" stroke-width="1.0"/>
<path d="M489.2 167.3L479.1 163.6L484.4 157.6Z" fill="#fff" stroke="#000" stroke-width="1"/>
<path d="M485.7 18.7H493.3M489.5 12.7V24.7" stroke="#1010d0" stroke-width="2.0" fill="none"/>
<path d="M497.7 18.7H524.7M511.2 7.1V30.3" stroke="#33ee33" stroke-width="2.0" fill="none"/>
<path d="M529.4 18.7H555.4M542.4 6.4V31.0" stroke="#f9a030" stroke-width="1.9" fill="none"/>
<path d="M538.2 18.7H545.7M552.4 18.7H555.4M542.4 13.5V22.5M542.4 27.0V30.7" stroke="#d0202a" stroke-width="1.9" fill="none"/>
<g clip-path="url(#cd)">
<path d="M114.7 416.5Q121.7 395.5 125.7 386.5Q129.7 377.5 133.2 369.5Q136.7 361.5 139.2 354.5Q141.7 347.5 145.2 341.5Q148.7 335.5 152.7 330.5Q156.7 325.5 161.7 322.0Q166.7 318.5 171.7 315.5Q176.7 312.5 181.7 309.5Q186.7 306.5 191.7 303.5Q196.7 300.5 201.7 297.5Q206.7 294.5 211.7 291.5Q216.7 288.5 221.7 285.5Q226.7 282.5 229.7 281.0L232.7 279.5" fill="none" stroke="#3fcf3f" stroke-width="1.1" stroke-dasharray="9 3.5 1.2 3.5" stroke-dashoffset="11" stroke-linecap="butt" stroke-linejoin="round" opacity="1.00"/>
<path d="M116.9 419.5Q123.9 398.5 127.9 389.5Q131.9 380.5 135.4 372.5Q138.9 364.5 141.4 357.5Q143.9 350.5 147.4 344.5Q150.9 338.5 154.9 333.5Q158.9 328.5 163.9 325.0Q168.9 321.5 173.9 318.5Q178.9 315.5 183.9 312.5Q188.9 309.5 193.9 306.5Q198.9 303.5 203.9 300.5Q208.9 297.5 213.9 294.5Q218.9 291.5 223.9 288.5Q228.9 285.5 231.9 284.0L234.9 282.5" fill="none" stroke="#3fcf3f" stroke-width="1.1" stroke-dasharray="9 3.5 1.2 3.5" stroke-dashoffset="12" stroke-linecap="butt" stroke-linejoin="round" opacity="1.00"/>
<path d="M119.1 422.5Q126.1 401.5 130.1 392.5Q134.1 383.5 137.6 375.5Q141.1 367.5 143.6 360.5Q146.1 353.5 149.6 347.5Q153.1 341.5 157.1 336.5Q161.1 331.5 166.1 328.0Q171.1 324.5 176.1 321.5Q181.1 318.5 186.1 315.5Q191.1 312.5 196.1 309.5Q201.1 306.5 206.1 303.5Q211.1 300.5 216.1 297.5Q221.1 294.5 226.1 291.5Q231.1 288.5 234.1 287.0L237.1 285.5" fill="none" stroke="#3fcf3f" stroke-width="1.1" stroke-dasharray="9 3.5 1.2 3.5" stroke-dashoffset="2" stroke-linecap="butt" stroke-linejoin="round" opacity="1.00"/>
<path d="M121.3 425.5Q128.3 404.5 132.3 395.5Q136.3 386.5 139.8 378.5Q143.3 370.5 145.8 363.5Q148.3 356.5 151.8 350.5Q155.3 344.5 159.3 339.5Q163.3 334.5 168.3 331.0Q173.3 327.5 178.3 324.5Q183.3 321.5 188.3 318.5Q193.3 315.5 198.3 312.5Q203.3 309.5 208.3 306.5Q213.3 303.5 218.3 300.5Q223.3 297.5 228.3 294.5Q233.3 291.5 236.3 290.0L239.3 288.5" fill="none" stroke="#3fcf3f" stroke-width="1.1" stroke-dasharray="9 3.5 1.2 3.5" stroke-dashoffset="0" stroke-linecap="butt" stroke-linejoin="round" opacity="1.00"/>
<path d="M124.2 429.4Q131.2 408.4 135.2 399.4Q139.2 390.4 142.7 382.4Q146.2 374.4 148.7 367.4Q151.2 360.4 154.7 354.4Q158.2 348.4 162.2 343.4Q166.2 338.4 171.2 334.9Q176.2 331.4 181.2 328.4Q186.2 325.4 191.2 322.4Q196.2 319.4 201.2 316.4Q206.2 313.4 211.2 310.4Q216.2 307.4 221.2 304.4Q226.2 301.4 231.2 298.4Q236.2 295.4 239.2 293.9L242.2 292.4" fill="none" stroke="#3fcf3f" stroke-width="1.1" stroke-dasharray="9 3.5 1.2 3.5" stroke-dashoffset="3" stroke-linecap="butt" stroke-linejoin="round" opacity="1.00"/>
<path d="M103.0 368.0Q107.0 355.0 109.5 346.0Q112.0 337.0 114.0 330.5Q116.0 324.0 118.5 318.0Q121.0 312.0 124.5 307.0Q128.0 302.0 133.5 297.0Q139.0 292.0 147.5 284.0Q156.0 276.0 165.5 267.5Q175.0 259.0 187.5 250.5L200.0 242.0" fill="none" stroke="#2a2ab0" stroke-width="1.1" stroke-dasharray="8 3 1.2 3" stroke-dashoffset="7" stroke-linecap="butt" stroke-linejoin="round" opacity="1.00"/>
<path d="M106.0 366.0Q111.0 350.0 113.5 341.5Q116.0 333.0 118.5 326.5Q121.0 320.0 124.0 315.0Q127.0 310.0 131.0 305.5Q135.0 301.0 140.5 296.5Q146.0 292.0 154.0 285.0Q162.0 278.0 171.0 270.5Q180.0 263.0 192.5 254.0Q205.0 245.0 207.5 243.5L210.0 242.0" fill="none" stroke="#2a2ab0" stroke-width="1.1" stroke-dasharray="8 3 1.2 3" stroke-dashoffset="1" stroke-linecap="butt" stroke-linejoin="round" opacity="1.00"/>
<path d="M109.0 362.0Q114.0 346.0 117.0 338.0Q120.0 330.0 123.0 324.0Q126.0 318.0 129.5 313.0Q133.0 308.0 137.5 303.5Q142.0 299.0 147.5 294.5Q153.0 290.0 160.5 284.5Q168.0 279.0 177.0 272.5Q186.0 266.0 197.0 258.5Q208.0 251.0 214.0 246.5L220.0 242.0" fill="none" stroke="#2a2ab0" stroke-width="1.1" stroke-dasharray="8 3 1.2 3" stroke-dashoffset="10" stroke-linecap="butt" stroke-linejoin="round" opacity="1.00"/>
<path d="M100.0 372.0Q104.0 360.0 106.5 351.5Q109.0 343.0 111.0 336.5Q113.0 330.0 115.5 324.0Q118.0 318.0 121.5 312.0Q125.0 306.0 130.0 301.0Q135.0 296.0 142.5 290.0Q150.0 284.0 159.0 277.0Q168.0 270.0 178.0 263.0Q188.0 256.0 195.5 251.0L203.0 246.0" fill="none" stroke="#2a2ab0" stroke-width="1.1" stroke-dasharray="8 3 1.2 3" stroke-dashoffset="5" stroke-linecap="butt" stroke-linejoin="round" opacity="1.00"/>
<path d="M109.0 380.0L127.0 353.0L142.0 333.0L160.0 311.0L178.0 289.0L198.0 276.0L215.0 267.0L221.0 264.0" fill="none" stroke="#8a2be2" stroke-width="2.0" stroke-linecap="butt" stroke-linejoin="round" opacity="1.00"/>
<path d="M109.6 405.0Q114.0 387.0 116.5 379.5Q119.0 372.0 121.5 365.0Q124.0 358.0 126.5 351.5Q129.0 345.0 132.0 339.0Q135.0 333.0 138.0 327.5Q141.0 322.0 144.5 317.0Q148.0 312.0 154.0 306.0Q160.0 300.0 167.5 294.5Q175.0 289.0 182.5 284.5Q190.0 280.0 197.5 276.0Q205.0 272.0 213.0 268.0L221.0 264.0" fill="none" stroke="#000" stroke-width="2.2" stroke-dasharray="9 3.5 1.5 3.5" stroke-dashoffset="14" stroke-linecap="butt" stroke-linejoin="round" opacity="1.00"/>
<path d="M115.0 395.0Q120.0 378.0 123.0 370.0Q126.0 362.0 128.5 355.5Q131.0 349.0 134.0 343.0Q137.0 337.0 140.5 331.0Q144.0 325.0 148.0 320.0Q152.0 315.0 158.5 308.5Q165.0 302.0 172.5 296.5Q180.0 291.0 187.5 286.5Q195.0 282.0 202.5 278.5Q210.0 275.0 215.5 272.0L221.0 269.0" fill="none" stroke="#000" stroke-width="2.2" stroke-dasharray="9 3.5 1.5 3.5" stroke-dashoffset="16" stroke-linecap="butt" stroke-linejoin="round" opacity="1.00"/>
<path d="M122.0 375.0Q128.0 360.0 131.0 353.5Q134.0 347.0 137.5 341.0Q141.0 335.0 145.0 329.0Q149.0 323.0 153.5 318.0Q158.0 313.0 164.0 308.0Q170.0 303.0 177.5 298.0Q185.0 293.0 192.5 289.0Q200.0 285.0 207.5 281.0L215.0 277.0" fill="none" stroke="#000" stroke-width="2.2" stroke-dasharray="9 3.5 1.5 3.5" stroke-dashoffset="13" stroke-linecap="butt" stroke-linejoin="round" opacity="1.00"/>
</g>
<path d="M127.4 278.9L129.5 282.7L125.3 282.7Z" fill="#1515d0" stroke="#1515d0" stroke-width="0.5" stroke-linejoin="miter"/>
<path d="M134.6 276.1L136.7 279.9L132.5 279.9Z" fill="#1515d0" stroke="#1515d0" stroke-width="0.5" stroke-linejoin="miter"/>
<path d="M163.1 262.0L165.2 265.8L161.0 265.8Z" fill="#1515d0" stroke="#1515d0" stroke-width="0.5" stroke-linejoin="miter"/>
<path d="M175.0 266.8L177.1 270.6L172.9 270.6Z" fill="#1515d0" stroke="#1515d0" stroke-width="0.5" stroke-linejoin="miter"/>
<path d="M176.9 275.5L179.0 279.3L174.8 279.3Z" fill="#1515d0" stroke="#1515d0" stroke-width="0.5" stroke-linejoin="miter"/>
<path d="M183.7 274.5L185.8 278.3L181.6 278.3Z" fill="#1515d0" stroke="#1515d0" stroke-width="0.5" stroke-linejoin="miter"/>
<path d="M187.5 275.5L189.6 279.3L185.4 279.3Z" fill="#1515d0" stroke="#1515d0" stroke-width="0.5" stroke-linejoin="miter"/>
<path d="M152.9 286.1L155.0 289.9L150.8 289.9Z" fill="#1515d0" stroke="#1515d0" stroke-width="0.5" stroke-linejoin="miter"/>
<path d="M158.7 285.1L160.8 288.9L156.6 288.9Z" fill="#1515d0" stroke="#1515d0" stroke-width="0.5" stroke-linejoin="miter"/>
<path d="M163.5 285.1L165.6 288.9L161.4 288.9Z" fill="#1515d0" stroke="#1515d0" stroke-width="0.5" stroke-linejoin="miter"/>
<path d="M169.2 287.0L171.3 290.8L167.1 290.8Z" fill="#1515d0" stroke="#1515d0" stroke-width="0.5" stroke-linejoin="miter"/>
<path d="M186.5 285.1L188.6 288.9L184.4 288.9Z" fill="#1515d0" stroke="#1515d0" stroke-width="0.5" stroke-linejoin="miter"/>
<path d="M124.0 298.6L126.1 302.4L121.9 302.4Z" fill="#1515d0" stroke="#1515d0" stroke-width="0.5" stroke-linejoin="miter"/>
<path d="M135.6 297.6L137.7 301.4L133.5 301.4Z" fill="#1515d0" stroke="#1515d0" stroke-width="0.5" stroke-linejoin="miter"/>
<path d="M127.9 306.2L130.0 310.0L125.8 310.0Z" fill="#1515d0" stroke="#1515d0" stroke-width="0.5" stroke-linejoin="miter"/>
<path d="M110.6 307.2L112.7 311.0L108.5 311.0Z" fill="#1515d0" stroke="#1515d0" stroke-width="0.5" stroke-linejoin="miter"/>
<path d="M114.4 312.0L116.5 315.8L112.3 315.8Z" fill="#1515d0" stroke="#1515d0" stroke-width="0.5" stroke-linejoin="miter"/>
<path d="M135.6 304.3L137.7 308.1L133.5 308.1Z" fill="#1515d0" stroke="#1515d0" stroke-width="0.5" stroke-linejoin="miter"/>
<path d="M139.4 304.3L141.5 308.1L137.3 308.1Z" fill="#1515d0" stroke="#1515d0" stroke-width="0.5" stroke-linejoin="miter"/>
<path d="M127.9 318.7L130.0 322.5L125.8 322.5Z" fill="#1515d0" stroke="#1515d0" stroke-width="0.5" stroke-linejoin="miter"/>
<path d="M110.6 322.6L112.7 326.4L108.5 326.4Z" fill="#1515d0" stroke="#1515d0" stroke-width="0.5" stroke-linejoin="miter"/>
<path d="M161.5 291.8L163.6 295.6L159.4 295.6Z" fill="#1515d0" stroke="#1515d0" stroke-width="0.5" stroke-linejoin="miter"/>
<path d="M214.4 269.7L216.5 273.5L212.3 273.5Z" fill="#1515d0" stroke="#1515d0" stroke-width="0.5" stroke-linejoin="miter"/>
<path d="M205.8 277.4L207.9 281.2L203.7 281.2Z" fill="#1515d0" stroke="#1515d0" stroke-width="0.5" stroke-linejoin="miter"/>
<path d="M169.2 281.2L171.3 285.0L167.1 285.0Z" fill="#1515d0" stroke="#1515d0" stroke-width="0.5" stroke-linejoin="miter"/>
<path d="M199.0 281.2L201.1 285.0L196.9 285.0Z" fill="#1515d0" stroke="#1515d0" stroke-width="0.5" stroke-linejoin="miter"/>
<path d="M200.0 284.1L202.1 287.9L197.9 287.9Z" fill="#1515d0" stroke="#1515d0" stroke-width="0.5" stroke-linejoin="miter"/>
<path d="M193.3 294.7L195.4 298.5L191.2 298.5Z" fill="#1515d0" stroke="#1515d0" stroke-width="0.5" stroke-linejoin="miter"/>
<path d="M194.2 297.6L196.3 301.4L192.1 301.4Z" fill="#1515d0" stroke="#1515d0" stroke-width="0.5" stroke-linejoin="miter"/>
<path d="M200.0 310.1L202.1 313.9L197.9 313.9Z" fill="#1515d0" stroke="#1515d0" stroke-width="0.5" stroke-linejoin="miter"/>
<path d="M170.2 297.6L172.3 301.4L168.1 301.4Z" fill="#1515d0" stroke="#1515d0" stroke-width="0.5" stroke-linejoin="miter"/>
<path d="M104.7 352.2L106.8 356.0L102.6 356.0Z" fill="#1515d0" stroke="#1515d0" stroke-width="0.5" stroke-linejoin="miter"/>
<path d="M127.4 273.1L130.5 278.5L124.3 278.5Z" fill="#33dd33" stroke="#000" stroke-width="0.9" stroke-linejoin="miter"/>
<path d="M127.4 284.2L130.5 289.6L124.3 289.6Z" fill="#33dd33" stroke="#000" stroke-width="0.9" stroke-linejoin="miter"/>
<path d="M118.7 295.4L121.8 300.8L115.6 300.8Z" fill="#33dd33" stroke="#000" stroke-width="0.9" stroke-linejoin="miter"/>
<path d="M136.5 282.3L139.6 287.7L133.4 287.7Z" fill="#33dd33" stroke="#000" stroke-width="0.9" stroke-linejoin="miter"/>
<path d="M103.8 306.3L106.9 311.7L100.7 311.7Z" fill="#33dd33" stroke="#000" stroke-width="0.9" stroke-linejoin="miter"/>
<path d="M147.1 292.8L150.2 298.2L144.0 298.2Z" fill="#33dd33" stroke="#000" stroke-width="0.9" stroke-linejoin="miter"/>
<path d="M168.3 280.3L171.4 285.7L165.2 285.7Z" fill="#33dd33" stroke="#000" stroke-width="0.9" stroke-linejoin="miter"/>
<path d="M146.2 311.1L149.3 316.5L143.1 316.5Z" fill="#33dd33" stroke="#000" stroke-width="0.9" stroke-linejoin="miter"/>
<path d="M126.9 311.1L130.0 316.5L123.8 316.5Z" fill="#33dd33" stroke="#000" stroke-width="0.9" stroke-linejoin="miter"/>
<path d="M155.8 316.9L158.9 322.3L152.7 322.3Z" fill="#33dd33" stroke="#000" stroke-width="0.9" stroke-linejoin="miter"/>
<path d="M179.8 292.8L182.9 298.2L176.7 298.2Z" fill="#33dd33" stroke="#000" stroke-width="0.9" stroke-linejoin="miter"/>
<path d="M111.5 326.5L114.6 331.9L108.4 331.9Z" fill="#33dd33" stroke="#000" stroke-width="0.9" stroke-linejoin="miter"/>
<path d="M153.8 300.5L156.9 305.9L150.7 305.9Z" fill="#33dd33" stroke="#000" stroke-width="0.9" stroke-linejoin="miter"/>
<path d="M184.6 302.5L187.7 307.9L181.5 307.9Z" fill="#33dd33" stroke="#000" stroke-width="0.9" stroke-linejoin="miter"/>
<path d="M141.7 341.6L144.8 347.0L138.6 347.0Z" fill="#33dd33" stroke="#000" stroke-width="0.9" stroke-linejoin="miter"/>
<rect x="173.5" y="282.8" width="6.0" height="6.0" fill="#ff9f00" stroke="#1a1000" stroke-width="1.1"/>
<rect x="178.7" y="301.2" width="6.0" height="6.0" fill="#ff9f00" stroke="#1a1000" stroke-width="1.1"/>
<rect x="155.7" y="311.1" width="6.0" height="6.0" fill="#ff9f00" stroke="#1a1000" stroke-width="1.1"/>
<rect x="171.3" y="320.2" width="6.0" height="6.0" fill="#ff9f00" stroke="#1a1000" stroke-width="1.1"/>
<rect x="150.5" y="323.6" width="6.0" height="6.0" fill="#ff9f00" stroke="#1a1000" stroke-width="1.1"/>
<rect x="198.9" y="274.6" width="6.0" height="6.0" fill="#ff9f00" stroke="#1a1000" stroke-width="1.1"/>
<rect x="197.0" y="290.0" width="6.0" height="6.0" fill="#ff9f00" stroke="#1a1000" stroke-width="1.1"/>
<rect x="191.2" y="314.0" width="6.0" height="6.0" fill="#ff9f00" stroke="#1a1000" stroke-width="1.1"/>
<rect x="128.9" y="334.8" width="6.0" height="6.0" fill="#ff9f00" stroke="#1a1000" stroke-width="1.1"/>
<rect x="127.6" y="351.7" width="6.0" height="6.0" fill="#ff9f00" stroke="#1a1000" stroke-width="1.1"/>
<rect x="139.2" y="359.1" width="6.0" height="6.0" fill="#ff9f00" stroke="#1a1000" stroke-width="1.1"/>
<rect x="126.4" y="382.8" width="6.0" height="6.0" fill="#ff9f00" stroke="#1a1000" stroke-width="1.1"/>
<rect x="176.5" y="334.8" width="6.0" height="6.0" fill="#ff9f00" stroke="#1a1000" stroke-width="1.1"/>
<rect x="155.7" y="341.6" width="6.0" height="6.0" fill="#ff9f00" stroke="#1a1000" stroke-width="1.1"/>
<rect x="169.9" y="347.4" width="6.0" height="6.0" fill="#ff9f00" stroke="#1a1000" stroke-width="1.1"/>
<rect x="169.3" y="356.6" width="6.0" height="6.0" fill="#ff9f00" stroke="#1a1000" stroke-width="1.1"/>
<rect x="209.6" y="341.0" width="6.0" height="6.0" fill="#ff9f00" stroke="#1a1000" stroke-width="1.1"/>
<rect x="123.7" y="312.9" width="5.6" height="5.6" fill="none" stroke="#e02020" stroke-width="1.0"/>
<rect x="125.1" y="325.7" width="5.6" height="5.6" fill="none" stroke="#e02020" stroke-width="1.0"/>
<rect x="155.9" y="323.8" width="5.6" height="5.6" fill="none" stroke="#e02020" stroke-width="1.0"/>
<rect x="158.4" y="273.5" width="6.2" height="6.2" fill="#ff0000" stroke="#ff0000" stroke-width="0.6"/>
<rect x="132.1" y="289.3" width="6.2" height="6.2" fill="#ff0000" stroke="#ff0000" stroke-width="0.6"/>
<rect x="151.5" y="289.6" width="6.2" height="6.2" fill="#ff0000" stroke="#ff0000" stroke-width="0.6"/>
<rect x="154.6" y="295.6" width="6.2" height="6.2" fill="#ff0000" stroke="#ff0000" stroke-width="0.6"/>
<rect x="140.2" y="300.1" width="6.2" height="6.2" fill="#ff0000" stroke="#ff0000" stroke-width="0.6"/>
<rect x="160.4" y="303.3" width="6.2" height="6.2" fill="#ff0000" stroke="#ff0000" stroke-width="0.6"/>
<rect x="166.1" y="309.1" width="6.2" height="6.2" fill="#ff0000" stroke="#ff0000" stroke-width="0.6"/>
<rect x="167.1" y="313.9" width="6.2" height="6.2" fill="#ff0000" stroke="#ff0000" stroke-width="0.6"/>
<rect x="194.9" y="290.8" width="6.2" height="6.2" fill="#ff0000" stroke="#ff0000" stroke-width="0.6"/>
<rect x="193.1" y="320.6" width="6.2" height="6.2" fill="#ff0000" stroke="#ff0000" stroke-width="0.6"/>
<rect x="145.4" y="341.5" width="6.2" height="6.2" fill="#ff0000" stroke="#ff0000" stroke-width="0.6"/>
<path d="M89.4 286.3L95.7 303.5" stroke="#8b2be6" stroke-width="1.0"/>
<path d="M98.5 311.0L92.0 304.9L99.5 302.1Z" fill="#8b2be6" stroke="#8b2be6" stroke-width="1"/>
<path d="M89.4 286.3L97.5 273.1" stroke="#000" stroke-width="1.0"/>
<path d="M102.2 265.4L100.9 275.2L94.1 271.0Z" fill="#000" stroke="#000" stroke-width="1"/>
<path d="M89.4 286.3L108.5 268.2" stroke="#000" stroke-width="1.0"/>
<path d="M115.8 261.3L111.3 271.1L105.8 265.3Z" fill="#fff" stroke="#000" stroke-width="1"/>
<path d="M148.4 393.6H162.4M155.4 387.3V399.9" stroke="#1010d0" stroke-width="2.0" fill="none"/>
<path d="M167.7 393.6H203.1M185.4 374.0V413.2" stroke="#33ee33" stroke-width="2.0" fill="none"/>
<path d="M207.9 393.6H223.5M215.7 376.1V411.1" stroke="#f9a030" stroke-width="1.9" fill="none"/>
<path d="M213.7 393.6H217.7M215.7 376.1V380.6M215.7 387.6V392.6M215.7 399.6V404.6" stroke="#d0202a" stroke-width="1.9" fill="none"/>
<g clip-path="url(#ce)">
<path d="M241.0 345.0Q255.0 325.0 262.2 314.8Q269.5 304.5 277.8 300.8Q286.0 297.0 292.0 294.8Q298.0 292.5 303.2 290.2Q308.5 288.0 315.2 285.0Q322.0 282.0 326.5 280.5Q331.0 279.0 343.9 273.0Q356.8 267.0 371.2 260.2Q385.7 253.5 395.4 248.8L405.0 244.0" fill="none" stroke="#2a2ab0" stroke-width="1.1" stroke-dasharray="8 3 1.2 3" stroke-dashoffset="9" stroke-linecap="butt" stroke-linejoin="round" opacity="1.00"/>
<path d="M245.0 350.0Q258.0 330.0 264.5 319.5Q271.0 309.0 280.8 305.2Q290.5 301.5 297.2 299.2Q304.0 297.0 310.0 294.8Q316.0 292.5 323.5 290.2Q331.0 288.0 340.5 284.0Q350.0 280.0 360.0 275.0Q370.0 270.0 380.0 264.5Q390.0 259.0 400.0 254.5L410.0 250.0" fill="none" stroke="#2a2ab0" stroke-width="1.1" stroke-dasharray="8 3 1.2 3" stroke-dashoffset="15" stroke-linecap="butt" stroke-linejoin="round" opacity="1.00"/>
<path d="M250.0 352.0Q262.0 330.0 265.0 321.8Q268.0 313.5 280.8 309.8Q293.5 306.0 301.0 303.8Q308.5 301.5 316.8 298.5Q325.0 295.5 335.0 291.8Q345.0 288.0 355.0 284.0Q365.0 280.0 375.0 275.0Q385.0 270.0 395.0 265.0Q405.0 260.0 410.5 258.0L416.0 256.0" fill="none" stroke="#2a2ab0" stroke-width="1.1" stroke-dasharray="8 3 1.2 3" stroke-dashoffset="6" stroke-linecap="butt" stroke-linejoin="round" opacity="1.00"/>
<path d="M241.0 360.0Q252.0 338.0 257.8 328.0Q263.5 318.0 274.8 315.0Q286.0 312.0 298.8 308.2Q311.5 304.5 319.8 302.2Q328.0 300.0 339.0 296.5Q350.0 293.0 360.0 289.0Q370.0 285.0 380.0 280.5Q390.0 276.0 400.0 272.0Q410.0 268.0 413.0 266.5L416.0 265.0" fill="none" stroke="#2a2ab0" stroke-width="1.1" stroke-dasharray="8 3 1.2 3" stroke-dashoffset="11" stroke-linecap="butt" stroke-linejoin="round" opacity="1.00"/>
<path d="M253.0 330.0Q260.5 319.5 264.2 315.0Q268.0 310.5 271.8 307.5Q275.5 304.5 282.8 300.2Q290.0 296.0 297.8 292.8Q305.5 289.5 312.2 287.2Q319.0 285.0 325.0 282.8Q331.0 280.5 340.5 275.8Q350.0 271.0 360.0 266.5Q370.0 262.0 381.0 257.0Q392.0 252.0 400.0 248.5L408.0 245.0" fill="none" stroke="#2a2ab0" stroke-width="1.1" stroke-dasharray="8 3 1.2 3" stroke-dashoffset="12" stroke-linecap="butt" stroke-linejoin="round" opacity="1.00"/>
<path d="M256.0 324.0Q280.0 316.5 290.0 313.2Q300.0 310.0 310.0 306.5Q320.0 303.0 330.0 299.5L340.0 296.0" fill="none" stroke="#2a2ab0" stroke-width="1.1" stroke-dasharray="8 3 1.2 3" stroke-dashoffset="2" stroke-linecap="butt" stroke-linejoin="round" opacity="1.00"/>
<path d="M402.0 242.0Q407.0 246.0 407.5 249.0Q408.0 252.0 406.0 255.0L404.0 258.0" fill="none" stroke="#2a2ab0" stroke-width="1.1" stroke-dasharray="8 3 1.2 3" stroke-dashoffset="0" stroke-linecap="butt" stroke-linejoin="round" opacity="1.00"/>
<path d="M251.7 421.0Q256.6 404.0 259.5 396.1Q262.4 388.3 264.4 383.5Q266.3 378.6 269.2 373.8Q272.1 368.9 276.1 364.4Q280.0 360.0 285.0 356.0Q290.0 352.0 297.5 348.5Q305.0 345.0 318.4 337.9Q331.8 330.8 341.4 325.9Q351.0 321.0 361.6 317.2Q372.2 313.5 380.9 309.6Q389.5 305.8 393.4 303.9Q397.2 302.0 406.6 297.0L416.0 292.0" fill="none" stroke="#3fcf3f" stroke-width="1.1" stroke-dasharray="9 3.5 1.2 3.5" stroke-dashoffset="3" stroke-linecap="butt" stroke-linejoin="round" opacity="1.00"/>
<path d="M270.2 421.0Q280.0 404.0 283.9 398.1Q287.7 392.3 293.5 385.5Q299.3 378.6 306.1 372.8Q313.0 367.0 320.5 364.2Q328.0 361.5 337.6 357.6Q347.2 353.8 356.9 349.0Q366.5 344.2 375.1 339.4Q383.8 334.6 392.4 327.8Q401.0 321.0 406.8 316.2Q412.6 311.5 415.3 308.8L418.0 306.0" fill="none" stroke="#3fcf3f" stroke-width="1.1" stroke-dasharray="9 3.5 1.2 3.5" stroke-dashoffset="7" stroke-linecap="butt" stroke-linejoin="round" opacity="1.00"/>
<path d="M260.5 384.5Q276.0 374.7 285.8 369.9Q295.5 365.0 304.2 360.0Q313.0 355.0 320.5 346.8Q328.0 338.5 337.6 336.6Q347.2 334.6 356.9 331.7Q366.5 328.8 376.1 324.0Q385.7 319.2 395.4 313.4Q405.0 307.7 409.8 303.9L414.5 300.0" fill="none" stroke="#3fcf3f" stroke-width="1.1" stroke-dasharray="9 3.5 1.2 3.5" stroke-dashoffset="1" stroke-linecap="butt" stroke-linejoin="round" opacity="1.00"/>
<path d="M280.0 421.0Q300.0 405.0 307.5 398.5Q315.0 392.0 321.5 385.4Q328.0 378.8 337.6 375.0Q347.2 371.2 356.9 366.4Q366.5 361.5 376.1 355.8Q385.7 350.0 393.4 344.2Q401.0 338.5 406.8 333.6Q412.6 328.8 415.3 326.4L418.0 324.0" fill="none" stroke="#3fcf3f" stroke-width="1.1" stroke-dasharray="9 3.5 1.2 3.5" stroke-dashoffset="10" stroke-linecap="butt" stroke-linejoin="round" opacity="1.00"/>
<path d="M300.0 421.0Q320.0 410.0 330.0 404.0Q340.0 398.0 350.0 392.0Q360.0 386.0 366.1 368.0Q372.2 350.0 376.1 344.2Q380.0 338.5 385.8 330.8Q391.5 323.0 396.2 317.2Q401.0 311.5 405.9 305.8L410.7 300.0" fill="none" stroke="#3fcf3f" stroke-width="1.1" stroke-dasharray="9 3.5 1.2 3.5" stroke-dashoffset="5" stroke-linecap="butt" stroke-linejoin="round" opacity="1.00"/>
<path d="M325.0 421.0Q345.0 410.0 355.0 404.0Q365.0 398.0 375.0 391.5Q385.0 385.0 395.0 378.5Q405.0 372.0 411.5 367.0L418.0 362.0" fill="none" stroke="#3fcf3f" stroke-width="1.1" stroke-dasharray="9 3.5 1.2 3.5" stroke-dashoffset="4" stroke-linecap="butt" stroke-linejoin="round" opacity="1.00"/>
<path d="M264.3 366.9Q280.0 361.0 289.6 357.1Q299.3 353.3 309.1 347.5Q318.8 341.7 329.4 335.9Q340.0 330.0 350.0 325.0Q360.0 320.0 372.5 314.0Q385.0 308.0 395.0 302.5Q405.0 297.0 410.5 294.5L416.0 292.0" fill="none" stroke="#3fcf3f" stroke-width="1.1" stroke-dasharray="9 3.5 1.2 3.5" stroke-dashoffset="14" stroke-linecap="butt" stroke-linejoin="round" opacity="1.00"/>
<path d="M241.0 406.0Q246.8 398.0 251.7 393.1Q256.6 388.3 263.4 384.5Q270.2 380.6 279.9 374.8Q289.6 368.9 299.3 364.0Q309.0 359.2 319.8 353.9Q330.5 348.5 340.2 344.2Q350.0 340.0 360.0 335.0Q370.0 330.0 380.0 324.0Q390.0 318.0 397.5 311.5Q405.0 305.0 410.5 300.0L416.0 295.0" fill="none" stroke="#000" stroke-width="2.2" stroke-dasharray="9 3.5 1.5 3.5" stroke-dashoffset="16" stroke-linecap="butt" stroke-linejoin="round" opacity="1.00"/>
<path d="M246.8 392.0Q250.7 382.5 251.7 380.1Q252.7 377.7 254.7 376.2Q256.6 374.7 263.4 371.4Q270.2 368.0 279.9 363.1Q289.6 358.2 297.4 353.9Q305.2 349.5 312.0 346.6Q318.8 343.6 323.4 340.1Q328.0 336.5 337.6 331.8Q347.2 327.0 358.6 321.5Q370.0 316.0 380.0 310.0Q390.0 304.0 397.5 298.0Q405.0 292.0 410.5 287.0L416.0 282.0" fill="none" stroke="#000" stroke-width="2.2" stroke-dasharray="9 3.5 1.5 3.5" stroke-dashoffset="13" stroke-linecap="butt" stroke-linejoin="round" opacity="1.00"/>
<path d="M252.7 376.7Q255.6 368.9 258.1 364.0Q260.5 359.2 262.4 355.3Q264.3 351.4 268.2 347.5Q272.1 343.6 276.0 340.7Q279.9 337.8 284.8 334.4Q289.6 331.0 294.8 328.5Q300.0 326.0 314.0 325.5Q328.0 325.0 339.5 322.1Q351.0 319.2 358.8 312.4Q366.5 305.5 379.0 298.8Q391.5 292.0 402.1 285.2L412.6 278.5" fill="none" stroke="#000" stroke-width="2.2" stroke-dasharray="9 3.5 1.5 3.5" stroke-dashoffset="9" stroke-linecap="butt" stroke-linejoin="round" opacity="1.00"/>
<path d="M262.4 353.3Q278.0 347.5 285.8 344.6Q293.5 341.7 300.3 339.2Q307.1 336.8 316.9 334.4Q326.6 332.0 335.8 327.0Q345.0 322.0 355.8 316.0Q366.5 310.0 379.0 302.5Q391.5 295.0 402.1 287.5L412.6 280.0" fill="none" stroke="#000" stroke-width="2.2" stroke-dasharray="9 3.5 1.5 3.5" stroke-dashoffset="15" stroke-linecap="butt" stroke-linejoin="round" opacity="1.00"/>
<path d="M279.5 326.6Q298.7 319.0 308.4 316.0Q318.0 313.0 324.5 310.0Q331.0 307.0 340.5 303.5Q350.0 300.0 358.2 296.0Q366.5 292.0 376.1 287.2Q385.7 282.4 391.9 279.2Q398.0 276.0 401.5 273.4Q405.0 270.8 407.5 268.4Q410.0 266.0 411.7 265.8Q413.4 265.6 414.0 266.8Q414.7 268.0 413.4 270.5Q412.2 273.0 409.7 276.1L407.2 279.2" fill="none" stroke="#000" stroke-width="2.2" stroke-dasharray="9 3.5 1.5 3.5" stroke-dashoffset="6" stroke-linecap="butt" stroke-linejoin="round" opacity="1.00"/>
<path d="M390.0 290.0Q398.0 282.0 401.5 279.0Q405.0 276.0 407.5 274.0Q410.0 272.0 412.0 271.0L414.0 270.0" fill="none" stroke="#000" stroke-width="2.2" stroke-dasharray="9 3.5 1.5 3.5" stroke-dashoffset="11" stroke-linecap="butt" stroke-linejoin="round" opacity="1.00"/>
</g>
<path d="M319.5 275.1L321.6 278.9L317.4 278.9Z" fill="#1515d0" stroke="#1515d0" stroke-width="0.5" stroke-linejoin="miter"/>
<path d="M329.5 297.6L331.6 301.4L327.4 301.4Z" fill="#1515d0" stroke="#1515d0" stroke-width="0.5" stroke-linejoin="miter"/>
<path d="M331.8 276.4L333.9 280.2L329.7 280.2Z" fill="#1515d0" stroke="#1515d0" stroke-width="0.5" stroke-linejoin="miter"/>
<path d="M359.7 276.4L361.8 280.2L357.6 280.2Z" fill="#1515d0" stroke="#1515d0" stroke-width="0.5" stroke-linejoin="miter"/>
<path d="M366.5 277.4L368.6 281.2L364.4 281.2Z" fill="#1515d0" stroke="#1515d0" stroke-width="0.5" stroke-linejoin="miter"/>
<path d="M373.2 278.4L375.3 282.2L371.1 282.2Z" fill="#1515d0" stroke="#1515d0" stroke-width="0.5" stroke-linejoin="miter"/>
<path d="M379.9 276.4L382.0 280.2L377.8 280.2Z" fill="#1515d0" stroke="#1515d0" stroke-width="0.5" stroke-linejoin="miter"/>
<path d="M384.7 262.0L386.8 265.8L382.6 265.8Z" fill="#1515d0" stroke="#1515d0" stroke-width="0.5" stroke-linejoin="miter"/>
<path d="M398.2 267.8L400.3 271.6L396.1 271.6Z" fill="#1515d0" stroke="#1515d0" stroke-width="0.5" stroke-linejoin="miter"/>
<path d="M402.0 269.7L404.1 273.5L399.9 273.5Z" fill="#1515d0" stroke="#1515d0" stroke-width="0.5" stroke-linejoin="miter"/>
<path d="M389.5 274.5L391.6 278.3L387.4 278.3Z" fill="#1515d0" stroke="#1515d0" stroke-width="0.5" stroke-linejoin="miter"/>
<path d="M364.5 281.2L366.6 285.0L362.4 285.0Z" fill="#1515d0" stroke="#1515d0" stroke-width="0.5" stroke-linejoin="miter"/>
<path d="M369.3 283.2L371.4 287.0L367.2 287.0Z" fill="#1515d0" stroke="#1515d0" stroke-width="0.5" stroke-linejoin="miter"/>
<path d="M376.1 283.2L378.2 287.0L374.0 287.0Z" fill="#1515d0" stroke="#1515d0" stroke-width="0.5" stroke-linejoin="miter"/>
<path d="M380.9 281.2L383.0 285.0L378.8 285.0Z" fill="#1515d0" stroke="#1515d0" stroke-width="0.5" stroke-linejoin="miter"/>
<path d="M367.4 287.0L369.5 290.8L365.3 290.8Z" fill="#1515d0" stroke="#1515d0" stroke-width="0.5" stroke-linejoin="miter"/>
<path d="M375.1 288.0L377.2 291.8L373.0 291.8Z" fill="#1515d0" stroke="#1515d0" stroke-width="0.5" stroke-linejoin="miter"/>
<path d="M380.9 286.1L383.0 289.9L378.8 289.9Z" fill="#1515d0" stroke="#1515d0" stroke-width="0.5" stroke-linejoin="miter"/>
<path d="M363.6 289.9L365.7 293.7L361.5 293.7Z" fill="#1515d0" stroke="#1515d0" stroke-width="0.5" stroke-linejoin="miter"/>
<path d="M354.9 297.6L357.0 301.4L352.8 301.4Z" fill="#1515d0" stroke="#1515d0" stroke-width="0.5" stroke-linejoin="miter"/>
<path d="M358.8 295.7L360.9 299.5L356.7 299.5Z" fill="#1515d0" stroke="#1515d0" stroke-width="0.5" stroke-linejoin="miter"/>
<path d="M362.6 305.3L364.7 309.1L360.5 309.1Z" fill="#1515d0" stroke="#1515d0" stroke-width="0.5" stroke-linejoin="miter"/>
<path d="M373.2 307.2L375.3 311.0L371.1 311.0Z" fill="#1515d0" stroke="#1515d0" stroke-width="0.5" stroke-linejoin="miter"/>
<path d="M351.1 306.2L353.2 310.0L349.0 310.0Z" fill="#1515d0" stroke="#1515d0" stroke-width="0.5" stroke-linejoin="miter"/>
<path d="M332.8 322.6L334.9 326.4L330.7 326.4Z" fill="#1515d0" stroke="#1515d0" stroke-width="0.5" stroke-linejoin="miter"/>
<path d="M329.9 297.6L332.0 301.4L327.8 301.4Z" fill="#1515d0" stroke="#1515d0" stroke-width="0.5" stroke-linejoin="miter"/>
<path d="M330.9 286.1L333.0 289.9L328.8 289.9Z" fill="#1515d0" stroke="#1515d0" stroke-width="0.5" stroke-linejoin="miter"/>
<path d="M371.0 273.9L373.1 277.7L368.9 277.7Z" fill="#1515d0" stroke="#1515d0" stroke-width="0.5" stroke-linejoin="miter"/>
<path d="M386.0 269.9L388.1 273.7L383.9 273.7Z" fill="#1515d0" stroke="#1515d0" stroke-width="0.5" stroke-linejoin="miter"/>
<path d="M392.0 279.9L394.1 283.7L389.9 283.7Z" fill="#1515d0" stroke="#1515d0" stroke-width="0.5" stroke-linejoin="miter"/>
<path d="M355.0 284.9L357.1 288.7L352.9 288.7Z" fill="#1515d0" stroke="#1515d0" stroke-width="0.5" stroke-linejoin="miter"/>
<path d="M348.0 289.9L350.1 293.7L345.9 293.7Z" fill="#1515d0" stroke="#1515d0" stroke-width="0.5" stroke-linejoin="miter"/>
<path d="M327.8 352.2L329.9 356.0L325.7 356.0Z" fill="#1515d0" stroke="#1515d0" stroke-width="0.5" stroke-linejoin="miter"/>
<path d="M360.0 278.9L362.1 282.7L357.9 282.7Z" fill="#1515d0" stroke="#1515d0" stroke-width="0.5" stroke-linejoin="miter"/>
<path d="M365.0 283.9L367.1 287.7L362.9 287.7Z" fill="#1515d0" stroke="#1515d0" stroke-width="0.5" stroke-linejoin="miter"/>
<path d="M372.0 280.9L374.1 284.7L369.9 284.7Z" fill="#1515d0" stroke="#1515d0" stroke-width="0.5" stroke-linejoin="miter"/>
<path d="M377.0 285.9L379.1 289.7L374.9 289.7Z" fill="#1515d0" stroke="#1515d0" stroke-width="0.5" stroke-linejoin="miter"/>
<path d="M383.0 283.9L385.1 287.7L380.9 287.7Z" fill="#1515d0" stroke="#1515d0" stroke-width="0.5" stroke-linejoin="miter"/>
<path d="M368.0 289.9L370.1 293.7L365.9 293.7Z" fill="#1515d0" stroke="#1515d0" stroke-width="0.5" stroke-linejoin="miter"/>
<path d="M374.0 292.9L376.1 296.7L371.9 296.7Z" fill="#1515d0" stroke="#1515d0" stroke-width="0.5" stroke-linejoin="miter"/>
<path d="M380.0 289.9L382.1 293.7L377.9 293.7Z" fill="#1515d0" stroke="#1515d0" stroke-width="0.5" stroke-linejoin="miter"/>
<path d="M357.0 287.9L359.1 291.7L354.9 291.7Z" fill="#1515d0" stroke="#1515d0" stroke-width="0.5" stroke-linejoin="miter"/>
<path d="M362.0 293.9L364.1 297.7L359.9 297.7Z" fill="#1515d0" stroke="#1515d0" stroke-width="0.5" stroke-linejoin="miter"/>
<path d="M387.0 277.9L389.1 281.7L384.9 281.7Z" fill="#1515d0" stroke="#1515d0" stroke-width="0.5" stroke-linejoin="miter"/>
<path d="M352.0 280.9L354.1 284.7L349.9 284.7Z" fill="#1515d0" stroke="#1515d0" stroke-width="0.5" stroke-linejoin="miter"/>
<path d="M370.0 297.9L372.1 301.7L367.9 301.7Z" fill="#1515d0" stroke="#1515d0" stroke-width="0.5" stroke-linejoin="miter"/>
<path d="M378.0 295.9L380.1 299.7L375.9 299.7Z" fill="#1515d0" stroke="#1515d0" stroke-width="0.5" stroke-linejoin="miter"/>
<path d="M327.5 273.2L330.6 278.6L324.4 278.6Z" fill="#33dd33" stroke="#000" stroke-width="0.9" stroke-linejoin="miter"/>
<path d="M316.0 284.2L319.1 289.6L312.9 289.6Z" fill="#33dd33" stroke="#000" stroke-width="0.9" stroke-linejoin="miter"/>
<path d="M288.1 296.3L291.2 301.7L285.0 301.7Z" fill="#33dd33" stroke="#000" stroke-width="0.9" stroke-linejoin="miter"/>
<path d="M291.4 295.7L294.5 301.1L288.3 301.1Z" fill="#33dd33" stroke="#000" stroke-width="0.9" stroke-linejoin="miter"/>
<path d="M282.9 306.7L286.0 312.1L279.8 312.1Z" fill="#33dd33" stroke="#000" stroke-width="0.9" stroke-linejoin="miter"/>
<path d="M317.9 307.8L321.0 313.2L314.8 313.2Z" fill="#33dd33" stroke="#000" stroke-width="0.9" stroke-linejoin="miter"/>
<path d="M296.8 317.5L299.9 322.9L293.7 322.9Z" fill="#33dd33" stroke="#000" stroke-width="0.9" stroke-linejoin="miter"/>
<path d="M313.1 317.5L316.2 322.9L310.0 322.9Z" fill="#33dd33" stroke="#000" stroke-width="0.9" stroke-linejoin="miter"/>
<path d="M318.9 316.9L322.0 322.3L315.8 322.3Z" fill="#33dd33" stroke="#000" stroke-width="0.9" stroke-linejoin="miter"/>
<path d="M308.3 327.5L311.4 332.9L305.2 332.9Z" fill="#33dd33" stroke="#000" stroke-width="0.9" stroke-linejoin="miter"/>
<path d="M299.7 326.5L302.8 331.9L296.6 331.9Z" fill="#33dd33" stroke="#000" stroke-width="0.9" stroke-linejoin="miter"/>
<path d="M343.4 274.6L346.5 280.0L340.3 280.0Z" fill="#33dd33" stroke="#000" stroke-width="0.9" stroke-linejoin="miter"/>
<path d="M329.0 273.6L332.1 279.0L325.9 279.0Z" fill="#33dd33" stroke="#000" stroke-width="0.9" stroke-linejoin="miter"/>
<path d="M356.8 279.4L359.9 284.8L353.7 284.8Z" fill="#33dd33" stroke="#000" stroke-width="0.9" stroke-linejoin="miter"/>
<path d="M353.0 282.3L356.1 287.7L349.9 287.7Z" fill="#33dd33" stroke="#000" stroke-width="0.9" stroke-linejoin="miter"/>
<path d="M338.6 285.2L341.7 290.6L335.5 290.6Z" fill="#33dd33" stroke="#000" stroke-width="0.9" stroke-linejoin="miter"/>
<path d="M362.6 275.5L365.7 280.9L359.5 280.9Z" fill="#33dd33" stroke="#000" stroke-width="0.9" stroke-linejoin="miter"/>
<path d="M356.8 289.0L359.9 294.4L353.7 294.4Z" fill="#33dd33" stroke="#000" stroke-width="0.9" stroke-linejoin="miter"/>
<path d="M338.6 292.8L341.7 298.2L335.5 298.2Z" fill="#33dd33" stroke="#000" stroke-width="0.9" stroke-linejoin="miter"/>
<path d="M351.1 293.8L354.2 299.2L348.0 299.2Z" fill="#33dd33" stroke="#000" stroke-width="0.9" stroke-linejoin="miter"/>
<path d="M361.7 295.7L364.8 301.1L358.6 301.1Z" fill="#33dd33" stroke="#000" stroke-width="0.9" stroke-linejoin="miter"/>
<path d="M374.2 302.5L377.3 307.9L371.1 307.9Z" fill="#33dd33" stroke="#000" stroke-width="0.9" stroke-linejoin="miter"/>
<path d="M329.0 299.6L332.1 305.0L325.9 305.0Z" fill="#33dd33" stroke="#000" stroke-width="0.9" stroke-linejoin="miter"/>
<path d="M329.9 310.2L333.0 315.6L326.8 315.6Z" fill="#33dd33" stroke="#000" stroke-width="0.9" stroke-linejoin="miter"/>
<path d="M347.2 308.2L350.3 313.6L344.1 313.6Z" fill="#33dd33" stroke="#000" stroke-width="0.9" stroke-linejoin="miter"/>
<path d="M356.8 311.1L359.9 316.5L353.7 316.5Z" fill="#33dd33" stroke="#000" stroke-width="0.9" stroke-linejoin="miter"/>
<path d="M344.3 311.1L347.4 316.5L341.2 316.5Z" fill="#33dd33" stroke="#000" stroke-width="0.9" stroke-linejoin="miter"/>
<path d="M366.5 321.7L369.6 327.1L363.4 327.1Z" fill="#33dd33" stroke="#000" stroke-width="0.9" stroke-linejoin="miter"/>
<path d="M290.6 341.6L293.7 347.0L287.5 347.0Z" fill="#33dd33" stroke="#000" stroke-width="0.9" stroke-linejoin="miter"/>
<path d="M308.1 328.6L311.2 334.0L305.0 334.0Z" fill="#33dd33" stroke="#000" stroke-width="0.9" stroke-linejoin="miter"/>
<rect x="320.3" y="301.5" width="6.0" height="6.0" fill="#ff9f00" stroke="#1a1000" stroke-width="1.1"/>
<rect x="298.6" y="314.4" width="6.0" height="6.0" fill="#ff9f00" stroke="#1a1000" stroke-width="1.1"/>
<rect x="365.8" y="274.6" width="6.0" height="6.0" fill="#ff9f00" stroke="#1a1000" stroke-width="1.1"/>
<rect x="341.0" y="282.8" width="6.0" height="6.0" fill="#ff9f00" stroke="#1a1000" stroke-width="1.1"/>
<rect x="342.3" y="290.0" width="6.0" height="6.0" fill="#ff9f00" stroke="#1a1000" stroke-width="1.1"/>
<rect x="364.4" y="311.1" width="6.0" height="6.0" fill="#ff9f00" stroke="#1a1000" stroke-width="1.1"/>
<rect x="374.0" y="319.8" width="6.0" height="6.0" fill="#ff9f00" stroke="#1a1000" stroke-width="1.1"/>
<rect x="375.4" y="324.6" width="6.0" height="6.0" fill="#ff9f00" stroke="#1a1000" stroke-width="1.1"/>
<rect x="255.5" y="359.1" width="6.0" height="6.0" fill="#ff9f00" stroke="#1a1000" stroke-width="1.1"/>
<rect x="283.7" y="356.6" width="6.0" height="6.0" fill="#ff9f00" stroke="#1a1000" stroke-width="1.1"/>
<rect x="314.8" y="334.8" width="6.0" height="6.0" fill="#ff9f00" stroke="#1a1000" stroke-width="1.1"/>
<rect x="293.4" y="382.8" width="6.0" height="6.0" fill="#ff9f00" stroke="#1a1000" stroke-width="1.1"/>
<rect x="370.5" y="334.8" width="6.0" height="6.0" fill="#ff9f00" stroke="#1a1000" stroke-width="1.1"/>
<rect x="373.0" y="341.6" width="6.0" height="6.0" fill="#ff9f00" stroke="#1a1000" stroke-width="1.1"/>
<rect x="385.5" y="347.4" width="6.0" height="6.0" fill="#ff9f00" stroke="#1a1000" stroke-width="1.1"/>
<rect x="352.0" y="351.9" width="6.0" height="6.0" fill="#ff9f00" stroke="#1a1000" stroke-width="1.1"/>
<rect x="287.2" y="312.7" width="5.6" height="5.6" fill="none" stroke="#e02020" stroke-width="1.0"/>
<rect x="289.7" y="325.4" width="5.6" height="5.6" fill="none" stroke="#e02020" stroke-width="1.0"/>
<rect x="311.0" y="259.1" width="6.2" height="6.2" fill="#ff0000" stroke="#ff0000" stroke-width="0.6"/>
<rect x="305.6" y="274.1" width="6.2" height="6.2" fill="#ff0000" stroke="#ff0000" stroke-width="0.6"/>
<rect x="271.6" y="289.3" width="6.2" height="6.2" fill="#ff0000" stroke="#ff0000" stroke-width="0.6"/>
<rect x="304.2" y="309.7" width="6.2" height="6.2" fill="#ff0000" stroke="#ff0000" stroke-width="0.6"/>
<rect x="369.7" y="291.2" width="6.2" height="6.2" fill="#ff0000" stroke="#ff0000" stroke-width="0.6"/>
<rect x="383.6" y="291.8" width="6.2" height="6.2" fill="#ff0000" stroke="#ff0000" stroke-width="0.6"/>
<rect x="377.4" y="300.1" width="6.2" height="6.2" fill="#ff0000" stroke="#ff0000" stroke-width="0.6"/>
<rect x="341.2" y="295.6" width="6.2" height="6.2" fill="#ff0000" stroke="#ff0000" stroke-width="0.6"/>
<rect x="341.2" y="300.4" width="6.2" height="6.2" fill="#ff0000" stroke="#ff0000" stroke-width="0.6"/>
<rect x="341.2" y="304.3" width="6.2" height="6.2" fill="#ff0000" stroke="#ff0000" stroke-width="0.6"/>
<rect x="369.1" y="312.9" width="6.2" height="6.2" fill="#ff0000" stroke="#ff0000" stroke-width="0.6"/>
<rect x="354.1" y="321.2" width="6.2" height="6.2" fill="#ff0000" stroke="#ff0000" stroke-width="0.6"/>
<rect x="330.1" y="341.5" width="6.2" height="6.2" fill="#ff0000" stroke="#ff0000" stroke-width="0.6"/>
<path d="M314.5 375.7L322.3 361.2" stroke="#000" stroke-width="1.0"/>
<path d="M326.6 353.3L325.8 363.1L318.8 359.3Z" fill="#000" stroke="#000" stroke-width="1"/>
<path d="M314.5 375.7L351.6 356.6" stroke="#000" stroke-width="1.0"/>
<path d="M360.5 352.0L353.4 360.1L349.8 353.0Z" fill="#fff" stroke="#000" stroke-width="1"/>
<path d="M314.5 375.7L322.7 396.5" stroke="#8b2be6" stroke-width="1.0"/>
<path d="M325.6 403.9L318.9 397.9L326.4 395.0Z" fill="#8b2be6" stroke="#8b2be6" stroke-width="1"/>
<path d="M308.0 393.8H320.0M314.0 387.8V399.8" stroke="#1010d0" stroke-width="2.0" fill="none"/>
<path d="M323.3 393.6H364.1M343.7 373.6V413.6" stroke="#33ee33" stroke-width="2.0" fill="none"/>
<path d="M368.3 393.6H406.7M387.5 376.1V411.1" stroke="#f9a030" stroke-width="1.9" fill="none"/>
<path d="M378.4 393.6H384.2M393.0 393.6H397.8M387.5 382.5V386.4M387.5 401.0V405.0" stroke="#d0202a" stroke-width="1.9" fill="none"/>
<path d="M58.5 179.4L58.5 175.2M58.5 0.4L58.5 4.6M69.9 179.4L69.9 175.2M69.9 0.4L69.9 4.6M81.3 179.4L81.3 170.7M81.3 0.4L81.3 9.1M92.7 179.4L92.7 175.2M92.7 0.4L92.7 4.6M104.1 179.4L104.1 175.2M104.1 0.4L104.1 4.6M115.5 179.4L115.5 175.2M115.5 0.4L115.5 4.6M126.9 179.4L126.9 170.7M126.9 0.4L126.9 9.1M138.3 179.4L138.3 175.2M138.3 0.4L138.3 4.6M149.8 179.4L149.8 175.2M149.8 0.4L149.8 4.6M161.2 179.4L161.2 175.2M161.2 0.4L161.2 4.6M172.6 179.4L172.6 170.7M172.6 0.4L172.6 9.1M184.0 179.4L184.0 175.2M184.0 0.4L184.0 4.6M195.4 179.4L195.4 175.2M195.4 0.4L195.4 4.6M206.8 179.4L206.8 175.2M206.8 0.4L206.8 4.6M218.2 179.4L218.2 170.7M218.2 0.4L218.2 9.1M229.6 179.4L229.6 175.2M229.6 0.4L229.6 4.6M241.0 179.4L241.0 175.2M241.0 0.4L241.0 4.6M58.5 179.4L65.5 179.4M241.0 179.4L234.0 179.4M58.5 170.4L61.9 170.4M241.0 170.4L237.6 170.4M58.5 161.5L61.9 161.5M241.0 161.5L237.6 161.5M58.5 152.5L61.9 152.5M241.0 152.5L237.6 152.5M58.5 143.6L61.9 143.6M241.0 143.6L237.6 143.6M58.5 134.6L65.5 134.6M241.0 134.6L234.0 134.6M58.5 125.7L61.9 125.7M241.0 125.7L237.6 125.7M58.5 116.8L61.9 116.8M241.0 116.8L237.6 116.8M58.5 107.8L61.9 107.8M241.0 107.8L237.6 107.8M58.5 98.9L61.9 98.9M241.0 98.9L237.6 98.9M58.5 89.9L65.5 89.9M241.0 89.9L234.0 89.9M58.5 81.0L61.9 81.0M241.0 81.0L237.6 81.0M58.5 72.0L61.9 72.0M241.0 72.0L237.6 72.0M58.5 63.1L61.9 63.1M241.0 63.1L237.6 63.1M58.5 54.1L61.9 54.1M241.0 54.1L237.6 54.1M58.5 45.1L65.5 45.1M241.0 45.1L234.0 45.1M58.5 36.2L61.9 36.2M241.0 36.2L237.6 36.2M58.5 27.2L61.9 27.2M241.0 27.2L237.6 27.2M58.5 18.3L61.9 18.3M241.0 18.3L237.6 18.3M58.5 9.3L61.9 9.3M241.0 9.3L237.6 9.3M58.5 0.4L65.5 0.4M241.0 0.4L234.0 0.4" stroke="#444" stroke-width="1.2" fill="none"/>
<rect x="58.5" y="0.4" width="182.5" height="179.0" fill="none" stroke="#3a3a3a" stroke-width="1.4"/>
<path d="M241.0 179.4L241.0 175.2M241.0 0.4L241.0 4.6M255.6 179.4L255.6 175.2M255.6 0.4L255.6 4.6M270.2 179.4L270.2 175.2M270.2 0.4L270.2 4.6M284.9 179.4L284.9 170.7M284.9 0.4L284.9 9.1M299.5 179.4L299.5 175.2M299.5 0.4L299.5 4.6M314.1 179.4L314.1 175.2M314.1 0.4L314.1 4.6M328.8 179.4L328.8 175.2M328.8 0.4L328.8 4.6M343.4 179.4L343.4 170.7M343.4 0.4L343.4 9.1M358.0 179.4L358.0 175.2M358.0 0.4L358.0 4.6M372.6 179.4L372.6 175.2M372.6 0.4L372.6 4.6M387.3 179.4L387.3 175.2M387.3 0.4L387.3 4.6M401.9 179.4L401.9 170.7M401.9 0.4L401.9 9.1M416.5 179.4L416.5 175.2M416.5 0.4L416.5 4.6M241.0 179.4L248.0 179.4M416.5 179.4L409.5 179.4M241.0 170.4L244.4 170.4M416.5 170.4L413.1 170.4M241.0 161.5L244.4 161.5M416.5 161.5L413.1 161.5M241.0 152.5L244.4 152.5M416.5 152.5L413.1 152.5M241.0 143.6L244.4 143.6M416.5 143.6L413.1 143.6M241.0 134.6L248.0 134.6M416.5 134.6L409.5 134.6M241.0 125.7L244.4 125.7M416.5 125.7L413.1 125.7M241.0 116.8L244.4 116.8M416.5 116.8L413.1 116.8M241.0 107.8L244.4 107.8M416.5 107.8L413.1 107.8M241.0 98.9L244.4 98.9M416.5 98.9L413.1 98.9M241.0 89.9L248.0 89.9M416.5 89.9L409.5 89.9M241.0 81.0L244.4 81.0M416.5 81.0L413.1 81.0M241.0 72.0L244.4 72.0M416.5 72.0L413.1 72.0M241.0 63.1L244.4 63.1M416.5 63.1L413.1 63.1M241.0 54.1L244.4 54.1M416.5 54.1L413.1 54.1M241.0 45.1L248.0 45.1M416.5 45.1L409.5 45.1M241.0 36.2L244.4 36.2M416.5 36.2L413.1 36.2M241.0 27.2L244.4 27.2M416.5 27.2L413.1 27.2M241.0 18.3L244.4 18.3M416.5 18.3L413.1 18.3M241.0 9.3L244.4 9.3M416.5 9.3L413.1 9.3M241.0 0.4L248.0 0.4M416.5 0.4L409.5 0.4" stroke="#444" stroke-width="1.2" fill="none"/>
<rect x="241.0" y="0.4" width="175.5" height="179.0" fill="none" stroke="#3a3a3a" stroke-width="1.4"/>
<path d="M416.5 179.4L416.5 170.7M416.5 0.4L416.5 9.1M425.6 179.4L425.6 175.2M425.6 0.4L425.6 4.6M434.8 179.4L434.8 175.2M434.8 0.4L434.8 4.6M443.9 179.4L443.9 175.2M443.9 0.4L443.9 4.6M453.0 179.4L453.0 170.7M453.0 0.4L453.0 9.1M462.1 179.4L462.1 175.2M462.1 0.4L462.1 4.6M471.3 179.4L471.3 175.2M471.3 0.4L471.3 4.6M480.4 179.4L480.4 175.2M480.4 0.4L480.4 4.6M489.5 179.4L489.5 170.7M489.5 0.4L489.5 9.1M498.6 179.4L498.6 175.2M498.6 0.4L498.6 4.6M507.8 179.4L507.8 175.2M507.8 0.4L507.8 4.6M516.9 179.4L516.9 175.2M516.9 0.4L516.9 4.6M526.0 179.4L526.0 170.7M526.0 0.4L526.0 9.1M535.1 179.4L535.1 175.2M535.1 0.4L535.1 4.6M544.3 179.4L544.3 175.2M544.3 0.4L544.3 4.6M553.4 179.4L553.4 175.2M553.4 0.4L553.4 4.6M562.5 179.4L562.5 170.7M562.5 0.4L562.5 9.1M571.6 179.4L571.6 175.2M571.6 0.4L571.6 4.6M580.8 179.4L580.8 175.2M580.8 0.4L580.8 4.6M589.9 179.4L589.9 175.2M589.9 0.4L589.9 4.6M599.0 179.4L599.0 170.7M599.0 0.4L599.0 9.1M416.5 179.4L423.5 179.4M599.0 179.4L592.0 179.4M416.5 170.4L419.9 170.4M599.0 170.4L595.6 170.4M416.5 161.5L419.9 161.5M599.0 161.5L595.6 161.5M416.5 152.5L419.9 152.5M599.0 152.5L595.6 152.5M416.5 143.6L419.9 143.6M599.0 143.6L595.6 143.6M416.5 134.6L423.5 134.6M599.0 134.6L592.0 134.6M416.5 125.7L419.9 125.7M599.0 125.7L595.6 125.7M416.5 116.8L419.9 116.8M599.0 116.8L595.6 116.8M416.5 107.8L419.9 107.8M599.0 107.8L595.6 107.8M416.5 98.9L419.9 98.9M599.0 98.9L595.6 98.9M416.5 89.9L423.5 89.9M599.0 89.9L592.0 89.9M416.5 81.0L419.9 81.0M599.0 81.0L595.6 81.0M416.5 72.0L419.9 72.0M599.0 72.0L595.6 72.0M416.5 63.1L419.9 63.1M599.0 63.1L595.6 63.1M416.5 54.1L419.9 54.1M599.0 54.1L595.6 54.1M416.5 45.1L423.5 45.1M599.0 45.1L592.0 45.1M416.5 36.2L419.9 36.2M599.0 36.2L595.6 36.2M416.5 27.2L419.9 27.2M599.0 27.2L595.6 27.2M416.5 18.3L419.9 18.3M599.0 18.3L595.6 18.3M416.5 9.3L419.9 9.3M599.0 9.3L595.6 9.3M416.5 0.4L423.5 0.4M599.0 0.4L592.0 0.4" stroke="#444" stroke-width="1.2" fill="none"/>
<rect x="416.5" y="0.4" width="182.5" height="179.0" fill="none" stroke="#3a3a3a" stroke-width="1.4"/>
<path d="M58.5 420.3L58.5 416.1M58.5 242.0L58.5 246.2M68.6 420.3L68.6 416.1M68.6 242.0L68.6 246.2M78.8 420.3L78.8 416.1M78.8 242.0L78.8 246.2M88.9 420.3L88.9 411.6M88.9 242.0L88.9 250.7M99.1 420.3L99.1 416.1M99.1 242.0L99.1 246.2M109.2 420.3L109.2 416.1M109.2 242.0L109.2 246.2M119.3 420.3L119.3 416.1M119.3 242.0L119.3 246.2M129.5 420.3L129.5 416.1M129.5 242.0L129.5 246.2M139.6 420.3L139.6 411.6M139.6 242.0L139.6 250.7M149.7 420.3L149.7 416.1M149.7 242.0L149.7 246.2M159.9 420.3L159.9 416.1M159.9 242.0L159.9 246.2M170.0 420.3L170.0 416.1M170.0 242.0L170.0 246.2M180.2 420.3L180.2 416.1M180.2 242.0L180.2 246.2M190.3 420.3L190.3 411.6M190.3 242.0L190.3 250.7M200.4 420.3L200.4 416.1M200.4 242.0L200.4 246.2M210.6 420.3L210.6 416.1M210.6 242.0L210.6 246.2M220.7 420.3L220.7 416.1M220.7 242.0L220.7 246.2M230.9 420.3L230.9 416.1M230.9 242.0L230.9 246.2M241.0 420.3L241.0 411.6M241.0 242.0L241.0 250.7M58.5 420.3L61.9 420.3M241.0 420.3L237.6 420.3M58.5 409.2L61.9 409.2M241.0 409.2L237.6 409.2M58.5 398.0L65.5 398.0M241.0 398.0L234.0 398.0M58.5 386.9L61.9 386.9M241.0 386.9L237.6 386.9M58.5 375.7L61.9 375.7M241.0 375.7L237.6 375.7M58.5 364.6L61.9 364.6M241.0 364.6L237.6 364.6M58.5 353.4L65.5 353.4M241.0 353.4L234.0 353.4M58.5 342.3L61.9 342.3M241.0 342.3L237.6 342.3M58.5 331.2L61.9 331.2M241.0 331.2L237.6 331.2M58.5 320.0L61.9 320.0M241.0 320.0L237.6 320.0M58.5 308.9L65.5 308.9M241.0 308.9L234.0 308.9M58.5 297.7L61.9 297.7M241.0 297.7L237.6 297.7M58.5 286.6L61.9 286.6M241.0 286.6L237.6 286.6M58.5 275.4L61.9 275.4M241.0 275.4L237.6 275.4M58.5 264.3L65.5 264.3M241.0 264.3L234.0 264.3M58.5 253.1L61.9 253.1M241.0 253.1L237.6 253.1M58.5 242.0L61.9 242.0M241.0 242.0L237.6 242.0" stroke="#444" stroke-width="1.2" fill="none"/>
<rect x="58.5" y="242.0" width="182.5" height="178.3" fill="none" stroke="#3a3a3a" stroke-width="1.4"/>
<path d="M241.0 420.3L241.0 416.1M241.0 242.0L241.0 246.2M255.6 420.3L255.6 416.1M255.6 242.0L255.6 246.2M270.2 420.3L270.2 416.1M270.2 242.0L270.2 246.2M284.9 420.3L284.9 411.6M284.9 242.0L284.9 250.7M299.5 420.3L299.5 416.1M299.5 242.0L299.5 246.2M314.1 420.3L314.1 416.1M314.1 242.0L314.1 246.2M328.8 420.3L328.8 416.1M328.8 242.0L328.8 246.2M343.4 420.3L343.4 411.6M343.4 242.0L343.4 250.7M358.0 420.3L358.0 416.1M358.0 242.0L358.0 246.2M372.6 420.3L372.6 416.1M372.6 242.0L372.6 246.2M387.3 420.3L387.3 416.1M387.3 242.0L387.3 246.2M401.9 420.3L401.9 411.6M401.9 242.0L401.9 250.7M416.5 420.3L416.5 416.1M416.5 242.0L416.5 246.2M241.0 420.3L244.4 420.3M416.5 420.3L413.1 420.3M241.0 409.2L244.4 409.2M416.5 409.2L413.1 409.2M241.0 398.0L248.0 398.0M416.5 398.0L409.5 398.0M241.0 386.9L244.4 386.9M416.5 386.9L413.1 386.9M241.0 375.7L244.4 375.7M416.5 375.7L413.1 375.7M241.0 364.6L244.4 364.6M416.5 364.6L413.1 364.6M241.0 353.4L248.0 353.4M416.5 353.4L409.5 353.4M241.0 342.3L244.4 342.3M416.5 342.3L413.1 342.3M241.0 331.2L244.4 331.2M416.5 331.2L413.1 331.2M241.0 320.0L244.4 320.0M416.5 320.0L413.1 320.0M241.0 308.9L248.0 308.9M416.5 308.9L409.5 308.9M241.0 297.7L244.4 297.7M416.5 297.7L413.1 297.7M241.0 286.6L244.4 286.6M416.5 286.6L413.1 286.6M241.0 275.4L244.4 275.4M416.5 275.4L413.1 275.4M241.0 264.3L248.0 264.3M416.5 264.3L409.5 264.3M241.0 253.1L244.4 253.1M416.5 253.1L413.1 253.1M241.0 242.0L244.4 242.0M416.5 242.0L413.1 242.0" stroke="#444" stroke-width="1.2" fill="none"/>
<rect x="241.0" y="242.0" width="175.5" height="178.3" fill="none" stroke="#3a3a3a" stroke-width="1.4"/>
<text x="81.3" y="200.1" font-size="13.6" text-anchor="middle" font-family="Liberation Serif" textLength="18.8" lengthAdjust="spacingAndGlyphs">0.2</text>
<text x="126.9" y="200.1" font-size="13.6" text-anchor="middle" font-family="Liberation Serif" textLength="18.8" lengthAdjust="spacingAndGlyphs">0.4</text>
<text x="172.6" y="200.1" font-size="13.6" text-anchor="middle" font-family="Liberation Serif" textLength="18.8" lengthAdjust="spacingAndGlyphs">0.6</text>
<text x="218.2" y="200.1" font-size="13.6" text-anchor="middle" font-family="Liberation Serif" textLength="18.8" lengthAdjust="spacingAndGlyphs">0.8</text>
<text x="284.9" y="200.1" font-size="13.6" text-anchor="middle" font-family="Liberation Serif" textLength="18.8" lengthAdjust="spacingAndGlyphs">0.6</text>
<text x="343.4" y="200.1" font-size="13.6" text-anchor="middle" font-family="Liberation Serif" textLength="18.8" lengthAdjust="spacingAndGlyphs">0.8</text>
<text x="401.9" y="200.1" font-size="13.6" text-anchor="middle" font-family="Liberation Serif">1</text>
<text x="453.0" y="200.1" font-size="13.6" text-anchor="middle" font-family="Liberation Serif" textLength="18.8" lengthAdjust="spacingAndGlyphs">0.6</text>
<text x="489.5" y="200.1" font-size="13.6" text-anchor="middle" font-family="Liberation Serif" textLength="18.8" lengthAdjust="spacingAndGlyphs">0.8</text>
<text x="526.0" y="200.1" font-size="13.6" text-anchor="middle" font-family="Liberation Serif">1</text>
<text x="562.5" y="200.1" font-size="13.6" text-anchor="middle" font-family="Liberation Serif" textLength="18.8" lengthAdjust="spacingAndGlyphs">1.2</text>
<text x="88.9" y="440.8" font-size="13.6" text-anchor="middle" font-family="Liberation Serif" textLength="18.8" lengthAdjust="spacingAndGlyphs">0.1</text>
<text x="139.6" y="440.8" font-size="13.6" text-anchor="middle" font-family="Liberation Serif" textLength="18.8" lengthAdjust="spacingAndGlyphs">0.2</text>
<text x="190.3" y="440.8" font-size="13.6" text-anchor="middle" font-family="Liberation Serif" textLength="18.8" lengthAdjust="spacingAndGlyphs">0.3</text>
<text x="284.9" y="440.8" font-size="13.6" text-anchor="middle" font-family="Liberation Serif" textLength="18.8" lengthAdjust="spacingAndGlyphs">0.6</text>
<text x="343.4" y="440.8" font-size="13.6" text-anchor="middle" font-family="Liberation Serif" textLength="18.8" lengthAdjust="spacingAndGlyphs">0.8</text>
<text x="401.9" y="440.8" font-size="13.6" text-anchor="middle" font-family="Liberation Serif">1</text>
<text x="49.2" y="49.9" font-size="13.6" text-anchor="end" font-family="Liberation Serif">0</text>
<text x="48.8" y="94.7" font-size="13.6" text-anchor="end" font-family="Liberation Serif" textLength="36.8" lengthAdjust="spacingAndGlyphs">−0.05</text>
<text x="48.8" y="139.5" font-size="13.6" text-anchor="end" font-family="Liberation Serif" textLength="27.4" lengthAdjust="spacingAndGlyphs">−0.1</text>
<text x="50.3" y="269.6" font-size="13.6" text-anchor="end" font-family="Liberation Serif" textLength="19.8" lengthAdjust="spacingAndGlyphs">0.8</text>
<text x="50.3" y="314.2" font-size="13.6" text-anchor="end" font-family="Liberation Serif" textLength="19.8" lengthAdjust="spacingAndGlyphs">0.6</text>
<text x="50.3" y="358.7" font-size="13.6" text-anchor="end" font-family="Liberation Serif" textLength="19.8" lengthAdjust="spacingAndGlyphs">0.4</text>
<text x="50.3" y="403.3" font-size="13.6" text-anchor="end" font-family="Liberation Serif" textLength="19.8" lengthAdjust="spacingAndGlyphs">0.2</text>
<text x="110.3" y="223.6" font-size="13.6" text-anchor="start" font-family="Liberation Serif" textLength="78.9" lengthAdjust="spacingAndGlyphs">log&#160;&#160;Fe4383</text>
<text x="293.3" y="223.6" font-size="13.6" text-anchor="start" font-family="Liberation Serif" textLength="71.2" lengthAdjust="spacingAndGlyphs">log&#160;&#160;C4668</text>
<text x="440.8" y="223.6" font-size="13.6" text-anchor="start" font-family="Liberation Serif" textLength="133.7" lengthAdjust="spacingAndGlyphs">log&#160;&#160;[C4668Fe4383]</text>
<text x="123.7" y="464.5" font-size="13.6" text-anchor="start" font-family="Liberation Serif" textLength="51.8" lengthAdjust="spacingAndGlyphs">CN3883</text>
<text x="293.3" y="463.8" font-size="13.6" text-anchor="start" font-family="Liberation Serif" textLength="71.2" lengthAdjust="spacingAndGlyphs">log&#160;&#160;C4668</text>
<text transform="translate(24.4,369.6) rotate(-90)" x="0" y="0" font-size="13.6" font-family="Liberation Serif" textLength="78.8" lengthAdjust="spacingAndGlyphs">log&#160;&#160;Fe4383</text>
<text transform="translate(11.6,134.4) rotate(-90)" font-size="15.0" font-family="Liberation Serif" textLength="6.4" lengthAdjust="spacingAndGlyphs">(</text>
<text transform="translate(11.3,127.8) rotate(-90)" font-size="15.0" font-family="Liberation Serif" textLength="8.6" lengthAdjust="spacingAndGlyphs">H</text>
<text transform="translate(11.3,118.0) rotate(-90)" font-size="15.0" font-family="Liberation Serif" textLength="5.8" lengthAdjust="spacingAndGlyphs">&#948;</text>
<text transform="translate(14.0,110.4) rotate(-90)" font-size="9.0" font-family="Liberation Serif" textLength="5.0" lengthAdjust="spacingAndGlyphs">A</text>
<text transform="translate(11.8,96.6) rotate(-90)" font-size="15.0" font-family="Liberation Serif" textLength="9.0" lengthAdjust="spacingAndGlyphs">+</text>
<text transform="translate(11.3,77.6) rotate(-90)" font-size="15.0" font-family="Liberation Serif" textLength="7.8" lengthAdjust="spacingAndGlyphs">H</text>
<text transform="translate(11.3,67.8) rotate(-90)" font-size="15.0" font-family="Liberation Serif" textLength="7.4" lengthAdjust="spacingAndGlyphs">&#947;</text>
<text transform="translate(14.0,60.4) rotate(-90)" font-size="9.0" font-family="Liberation Serif" textLength="5.0" lengthAdjust="spacingAndGlyphs">A</text>
<text transform="translate(11.6,54.4) rotate(-90)" font-size="15.0" font-family="Liberation Serif" textLength="5.2" lengthAdjust="spacingAndGlyphs">)</text>
<text transform="translate(6.0,49.6) rotate(-90)" font-size="10.0" font-family="Liberation Serif" textLength="3.8" lengthAdjust="spacingAndGlyphs">&#8242;</text>
<text x="202.8" y="26.9" font-size="21.4" text-anchor="start" font-family="Liberation Serif" textLength="22.7" lengthAdjust="spacingAndGlyphs" class="tag">(a)</text>
<text x="561.3" y="26.9" font-size="21.4" text-anchor="start" font-family="Liberation Serif" textLength="22.7" lengthAdjust="spacingAndGlyphs" class="tag">(c)</text>
<text x="245.3" y="162.9" font-size="21.4" text-anchor="start" font-family="Liberation Serif" textLength="22.7" lengthAdjust="spacingAndGlyphs" class="tag">(b)</text>
<text x="64.2" y="267.5" font-size="21.4" text-anchor="start" font-family="Liberation Serif" textLength="22.7" lengthAdjust="spacingAndGlyphs" class="tag">(d)</text>
<text x="246.6" y="268.0" font-size="21.4" text-anchor="start" font-family="Liberation Serif" textLength="22.7" lengthAdjust="spacingAndGlyphs" class="tag">(e)</text>
</svg></body></html>
